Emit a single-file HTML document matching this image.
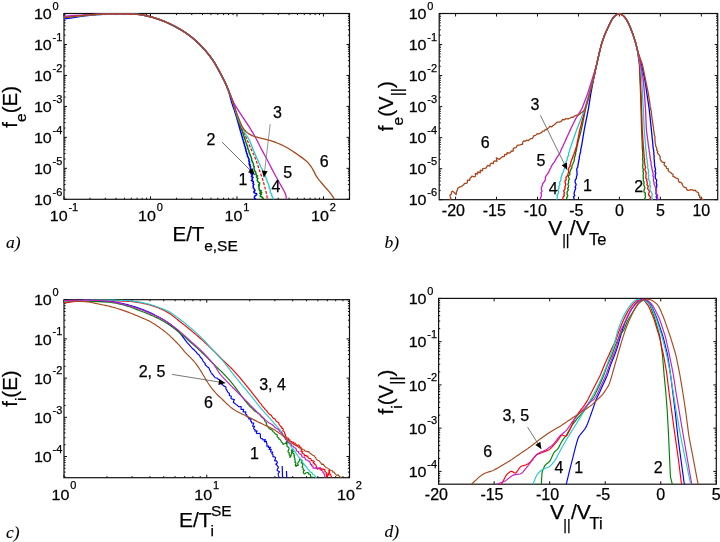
<!DOCTYPE html>
<html><head><meta charset="utf-8"><style>
html,body{margin:0;padding:0;background:#fff;}
svg{display:block;will-change:transform;}
text{font-family:"Liberation Sans", sans-serif;fill:#000;stroke:#000;stroke-width:0.25px;}
</style></head><body>
<svg width="720" height="542" viewBox="0 0 720 542">
<rect width="720" height="542" fill="#fff"/>
<path d="M64 199.3v-3M64 13.5v3M150.49 199.3v-3M150.49 13.5v3M236.98 199.3v-3M236.98 13.5v3M323.46 199.3v-3M323.46 13.5v3M64 13.5h3M349.5 13.5h-3M64 44.47h3M349.5 44.47h-3M64 75.43h3M349.5 75.43h-3M64 106.4h3M349.5 106.4h-3M64 137.37h3M349.5 137.37h-3M64 168.33h3M349.5 168.33h-3M64 199.3h3M349.5 199.3h-3M90.04 199.3v-1.6M90.04 13.5v1.6M105.27 199.3v-1.6M105.27 13.5v1.6M116.07 199.3v-1.6M116.07 13.5v1.6M124.45 199.3v-1.6M124.45 13.5v1.6M131.3 199.3v-1.6M131.3 13.5v1.6M137.09 199.3v-1.6M137.09 13.5v1.6M142.11 199.3v-1.6M142.11 13.5v1.6M146.53 199.3v-1.6M146.53 13.5v1.6M176.52 199.3v-1.6M176.52 13.5v1.6M191.75 199.3v-1.6M191.75 13.5v1.6M202.56 199.3v-1.6M202.56 13.5v1.6M210.94 199.3v-1.6M210.94 13.5v1.6M217.79 199.3v-1.6M217.79 13.5v1.6M223.58 199.3v-1.6M223.58 13.5v1.6M228.59 199.3v-1.6M228.59 13.5v1.6M233.02 199.3v-1.6M233.02 13.5v1.6M263.01 199.3v-1.6M263.01 13.5v1.6M278.24 199.3v-1.6M278.24 13.5v1.6M289.05 199.3v-1.6M289.05 13.5v1.6M297.43 199.3v-1.6M297.43 13.5v1.6M304.28 199.3v-1.6M304.28 13.5v1.6M310.07 199.3v-1.6M310.07 13.5v1.6M315.08 199.3v-1.6M315.08 13.5v1.6M319.51 199.3v-1.6M319.51 13.5v1.6M64 189.98h1.6M349.5 189.98h-1.6M64 184.53h1.6M349.5 184.53h-1.6M64 180.66h1.6M349.5 180.66h-1.6M64 177.66h1.6M349.5 177.66h-1.6M64 175.2h1.6M349.5 175.2h-1.6M64 173.13h1.6M349.5 173.13h-1.6M64 171.33h1.6M349.5 171.33h-1.6M64 169.75h1.6M349.5 169.75h-1.6M64 159.01h1.6M349.5 159.01h-1.6M64 153.56h1.6M349.5 153.56h-1.6M64 149.69h1.6M349.5 149.69h-1.6M64 146.69h1.6M349.5 146.69h-1.6M64 144.24h1.6M349.5 144.24h-1.6M64 142.16h1.6M349.5 142.16h-1.6M64 140.37h1.6M349.5 140.37h-1.6M64 138.78h1.6M349.5 138.78h-1.6M64 128.04h1.6M349.5 128.04h-1.6M64 122.59h1.6M349.5 122.59h-1.6M64 118.72h1.6M349.5 118.72h-1.6M64 115.72h1.6M349.5 115.72h-1.6M64 113.27h1.6M349.5 113.27h-1.6M64 111.2h1.6M349.5 111.2h-1.6M64 109.4h1.6M349.5 109.4h-1.6M64 107.82h1.6M349.5 107.82h-1.6M64 97.08h1.6M349.5 97.08h-1.6M64 91.63h1.6M349.5 91.63h-1.6M64 87.76h1.6M349.5 87.76h-1.6M64 84.76h1.6M349.5 84.76h-1.6M64 82.3h1.6M349.5 82.3h-1.6M64 80.23h1.6M349.5 80.23h-1.6M64 78.43h1.6M349.5 78.43h-1.6M64 76.85h1.6M349.5 76.85h-1.6M64 66.11h1.6M349.5 66.11h-1.6M64 60.66h1.6M349.5 60.66h-1.6M64 56.79h1.6M349.5 56.79h-1.6M64 53.79h1.6M349.5 53.79h-1.6M64 51.34h1.6M349.5 51.34h-1.6M64 49.26h1.6M349.5 49.26h-1.6M64 47.47h1.6M349.5 47.47h-1.6M64 45.88h1.6M349.5 45.88h-1.6M64 35.14h1.6M349.5 35.14h-1.6M64 29.69h1.6M349.5 29.69h-1.6M64 25.82h1.6M349.5 25.82h-1.6M64 22.82h1.6M349.5 22.82h-1.6M64 20.37h1.6M349.5 20.37h-1.6M64 18.3h1.6M349.5 18.3h-1.6M64 16.5h1.6M349.5 16.5h-1.6M64 14.92h1.6M349.5 14.92h-1.6" stroke="#111" stroke-width="1" fill="none"/>
<rect x="64" y="13.5" width="285.5" height="185.8" fill="none" stroke="#111" stroke-width="1.2"/>
<text transform="translate(51.8 19.1) scale(1.05 1)" font-size="15.3" text-anchor="end">10</text>
<text x="52.6" y="9.8" font-size="11">0</text>
<text transform="translate(51.8 50.07) scale(1.05 1)" font-size="15.3" text-anchor="end">10</text>
<text x="52.6" y="40.77" font-size="11">-1</text>
<text transform="translate(51.8 81.03) scale(1.05 1)" font-size="15.3" text-anchor="end">10</text>
<text x="52.6" y="71.73" font-size="11">-2</text>
<text transform="translate(51.8 112) scale(1.05 1)" font-size="15.3" text-anchor="end">10</text>
<text x="52.6" y="102.7" font-size="11">-3</text>
<text transform="translate(51.8 142.97) scale(1.05 1)" font-size="15.3" text-anchor="end">10</text>
<text x="52.6" y="133.67" font-size="11">-4</text>
<text transform="translate(51.8 173.93) scale(1.05 1)" font-size="15.3" text-anchor="end">10</text>
<text x="52.6" y="164.63" font-size="11">-5</text>
<text transform="translate(51.8 204.9) scale(1.05 1)" font-size="15.3" text-anchor="end">10</text>
<text x="52.6" y="195.6" font-size="11">-6</text>
<text transform="translate(49.78 221) scale(1.05 1)" font-size="15.3">10</text>
<text x="68.44" y="210.5" font-size="11">-1</text>
<text transform="translate(138.1 221) scale(1.05 1)" font-size="15.3">10</text>
<text x="156.76" y="210.5" font-size="11">0</text>
<text transform="translate(224.59 221) scale(1.05 1)" font-size="15.3">10</text>
<text x="243.25" y="210.5" font-size="11">1</text>
<text transform="translate(311.07 221) scale(1.05 1)" font-size="15.3">10</text>
<text x="329.74" y="210.5" font-size="11">2</text>
<path d="M64 18.8 L65.93 18.52 L68.69 18.11 L71.85 17.65 L75 17.2 L78.13 16.75 L81.44 16.26 L84.77 15.8 L88 15.4 L91 15.08 L93.88 14.82 L96.81 14.6 L100 14.4 L103.59 14.23 L107.44 14.08 L111.32 13.97 L115 13.9 L118.41 13.87 L121.69 13.88 L124.87 13.93 L128 14 L131.14 14.08 L134.24 14.19 L137.22 14.35 L140 14.6 L142.49 14.96 L144.77 15.42 L146.96 15.94 L149.2 16.5 L151.52 17.1 L153.85 17.74 L156.18 18.44 L158.5 19.2 L160.81 20.03 L163.11 20.93 L165.4 21.89 L167.7 22.9 L170 23.96 L172.3 25.08 L174.6 26.26 L176.9 27.5 L179.2 28.79 L181.49 30.13 L183.79 31.56 L186.1 33.1 L187.26 33.93 L188.42 34.76 L189.59 35.64 L190.75 36.52 L191.91 37.46 L193.08 38.39 L194.24 39.4 L195.4 40.4 L196.55 41.46 L197.71 42.52 L198.86 43.64 L200.01 44.76 L201.15 45.95 L202.3 47.14 L203.07 47.99 L203.83 48.85 L204.6 49.7 L205.37 50.6 L206.13 51.5 L206.9 52.4 L207.67 53.35 L208.43 54.3 L209.2 55.24 L209.97 56.27 L210.73 57.29 L211.5 58.31 L212.07 59.16 L212.65 60.01 L213.22 60.85 L213.8 61.7 L214.4 62.69 L215 63.68 L215.6 64.67 L216.2 65.66 L216.69 66.54 L217.18 67.42 L217.68 68.3 L218.17 69.18 L218.66 70.06 L219.13 70.94 L219.6 71.81 L220.06 72.69 L220.53 73.56 L221 74.44 L221.5 75.4 L222 76.37 L222.5 77.33 L223 78.3 L223.52 79.33 L224.05 80.36 L224.57 81.39 L224.99 82.25 L225.41 83.12 L225.83 83.99 L226.2 84.83 L226.56 85.67 L226.93 86.51 L227.28 87.44 L227.64 88.37 L228 89.3 L228.26 90.11 L228.53 90.92 L228.79 91.73 L229.05 92.54 L229.29 93.41 L229.54 94.28 L229.78 95.15 L230.02 96.01 L230.25 96.88 L230.48 97.76 L230.72 98.63 L230.95 99.5 L231.19 100.33 L231.43 101.15 L231.66 101.97 L231.9 102.8 L232.23 103.8 L232.55 104.79 L232.88 105.79 L233.2 106.73 L233.53 107.66 L233.86 108.6 L234.18 109.54 L234.51 110.47 L234.83 111.41 L235.15 112.41 L235.48 113.4 L235.8 114.4 L236.04 115.21 L236.28 116.02 L236.52 116.83 L236.75 117.64 L236.99 118.49 L237.23 119.33 L237.46 120.18 L237.7 121.03 L237.94 121.89 L238.17 122.75 L238.41 123.61 L238.65 124.47 L238.88 125.33 L239.12 126.19 L239.36 127.04 L239.6 127.9 L239.84 128.75 L240.08 129.6 L240.33 130.44 L240.57 131.29 L240.81 132.14 L241.06 132.99 L241.3 133.84 L241.54 134.69 L241.79 135.54 L242.03 136.4 L242.28 137.25 L242.52 138.1 L242.77 138.95 L243.01 139.8 L243.24 140.65 L243.52 141.5 L243.75 142.36 L244.03 143.22 L244.25 144.09 L244.48 144.95 L244.58 145.82 L245.09 146.69 L245.45 147.56 L245.31 148.43 L246 149.28 L245.84 150.13 L245.95 150.99 L246.45 151.84 L246.52 152.66 L246.73 153.47 L247.35 154.29 L247.45 155.1 L247.38 156.11 L248.1 157.13 L248.45 158.14 L248.96 159.1 L249.11 160.06 L248.73 161.02 L249.7 161.97 L249.44 162.91 L249.02 163.85 L250.31 164.8 L249.6 165.75 L250.62 166.7 L250.29 167.7 L250.69 168.69 L250.9 169.69 L250 170.71 L251.58 171.72 L251.55 172.74 L250.87 173.71 L252.64 174.69 L251.89 175.67 L251.37 176.54 L253.06 177.42 L252.11 178.3 L252.46 179.43 L251.33 180.56 L253.37 181.56 L253.3 182.56 L252.85 183.47 L253.91 184.38 L253.24 185.24 L253.21 186.1 L253.24 187.65 L254.26 189.03 L255 190.38 L253.67 191.9 L254.28 192.86 L256.57 193.81 L256.53 194.89 L254.94 195.96 L254.45 196.95 L254.39 197.93 L255.8 199.3" stroke="#0000ff" stroke-width="1.55" fill="none" stroke-linejoin="round"/>
<path d="M64 17.6 L65.93 17.36 L68.69 17.03 L71.85 16.65 L75 16.3 L78.13 15.98 L81.44 15.67 L84.77 15.37 L88 15.1 L91 14.86 L93.88 14.65 L96.81 14.47 L100 14.3 L103.59 14.15 L107.44 14.02 L111.32 13.91 L115 13.85 L118.41 13.83 L121.69 13.86 L124.87 13.92 L128 14 L131.14 14.09 L134.24 14.19 L137.22 14.35 L140 14.6 L142.49 14.96 L144.77 15.42 L146.96 15.94 L149.2 16.5 L151.52 17.1 L153.85 17.74 L156.18 18.44 L158.5 19.2 L160.81 20.03 L163.11 20.93 L165.4 21.89 L167.7 22.9 L170 23.96 L172.3 25.08 L174.6 26.26 L176.9 27.5 L179.2 28.79 L181.49 30.13 L183.79 31.56 L186.1 33.1 L187.26 33.93 L188.42 34.76 L189.59 35.64 L190.75 36.52 L191.91 37.46 L193.08 38.39 L194.24 39.4 L195.4 40.4 L196.55 41.46 L197.71 42.52 L198.86 43.64 L200.01 44.76 L201.15 45.95 L202.3 47.14 L203.07 47.99 L203.83 48.85 L204.6 49.7 L205.37 50.6 L206.13 51.5 L206.9 52.4 L207.67 53.35 L208.43 54.3 L209.2 55.24 L209.97 56.27 L210.73 57.29 L211.5 58.31 L212.07 59.16 L212.65 60.01 L213.22 60.85 L213.8 61.7 L214.4 62.69 L215 63.68 L215.6 64.67 L216.2 65.66 L216.69 66.54 L217.18 67.42 L217.68 68.3 L218.17 69.18 L218.66 70.06 L219.13 70.94 L219.6 71.81 L220.06 72.69 L220.53 73.56 L221 74.44 L221.5 75.4 L222 76.37 L222.5 77.33 L223 78.3 L223.52 79.35 L224.04 80.39 L224.56 81.44 L224.98 82.34 L225.39 83.24 L225.81 84.14 L226.17 84.99 L226.53 85.83 L226.9 86.67 L227.27 87.55 L227.63 88.42 L228 89.3 L228.38 90.23 L228.77 91.17 L229.15 92.1 L229.52 93.05 L229.89 93.99 L230.26 94.94 L230.61 95.87 L230.97 96.8 L231.32 97.73 L231.65 98.62 L231.97 99.51 L232.3 100.4 L232.6 101.23 L232.89 102.06 L233.19 102.89 L233.59 104.07 L234 105.26 L234.38 106.42 L234.76 107.59 L235.01 108.4 L235.25 109.2 L235.5 110 L235.72 110.83 L235.95 111.65 L236.18 112.47 L236.38 113.31 L236.58 114.14 L236.79 114.98 L237 115.83 L237.22 116.68 L237.43 117.54 L237.69 118.43 L237.94 119.31 L238.2 120.2 L238.51 121.12 L238.82 122.04 L239.14 122.95 L239.48 123.9 L239.83 124.84 L240.18 125.79 L240.55 126.77 L240.92 127.75 L241.29 128.73 L241.66 129.75 L242.03 130.78 L242.4 131.8 L242.69 132.63 L242.97 133.45 L243.26 134.28 L243.54 135.11 L243.84 135.98 L244.13 136.85 L244.43 137.73 L244.73 138.6 L245.02 139.47 L245.32 140.35 L245.6 141.22 L245.92 142.09 L246.15 142.92 L246.47 143.75 L246.65 144.57 L246.97 145.4 L247.49 146.41 L247.69 147.43 L247.75 148.44 L248.32 149.4 L248.59 150.36 L248.98 151.32 L249.03 152.27 L249.36 153.21 L250.22 154.15 L249.97 155.1 L250.72 156.05 L251.13 157 L251.35 157.98 L251.83 158.96 L251.38 159.94 L252.21 160.94 L252.32 161.93 L253.05 162.92 L253.25 163.89 L253.61 164.86 L253.41 165.83 L254.27 166.76 L254 167.68 L254.06 168.6 L254.11 169.45 L254.53 170.31 L254.86 171.16 L255.72 171.96 L255.71 172.77 L256.1 173.57 L255.88 174.74 L257.49 175.92 L256.38 177.11 L257.91 178.3 L257.27 179.49 L257.34 180.69 L258.06 181.87 L259.63 183.05 L259.76 183.85 L258.61 184.66 L259.26 185.46 L258.59 186.31 L259.08 187.15 L259.05 188 L259.09 188.99 L259.26 189.98 L261.34 190.98 L259.95 191.8 L261.71 192.62 L259.77 193.44 L261.45 194.26 L260.32 195.25 L260.27 196.24 L262.34 197.23 L262.87 198.27 L262.94 199.3" stroke="#008000" stroke-width="1.5" fill="none" stroke-linejoin="round"/>
<path d="M64 17.6 L65.93 17.36 L68.69 17.03 L71.85 16.65 L75 16.3 L78.13 15.98 L81.44 15.67 L84.77 15.37 L88 15.1 L91 14.86 L93.88 14.65 L96.81 14.47 L100 14.3 L103.59 14.15 L107.44 14.02 L111.32 13.91 L115 13.85 L118.41 13.83 L121.69 13.86 L124.87 13.92 L128 14 L131.14 14.09 L134.24 14.19 L137.22 14.35 L140 14.6 L142.49 14.96 L144.77 15.42 L146.96 15.94 L149.2 16.5 L151.52 17.1 L153.85 17.74 L156.18 18.44 L158.5 19.2 L160.81 20.03 L163.11 20.93 L165.4 21.89 L167.7 22.9 L170 23.96 L172.3 25.08 L174.6 26.26 L176.9 27.5 L179.2 28.79 L181.49 30.13 L183.79 31.56 L186.1 33.1 L188.42 34.76 L190.75 36.52 L193.08 38.39 L195.4 40.4 L197.71 42.52 L200.01 44.76 L202.3 47.14 L204.6 49.7 L206.9 52.4 L209.2 55.24 L211.5 58.31 L213.8 61.7 L216.2 65.66 L218.66 70.06 L221 74.44 L223 78.3 L224.56 81.44 L225.81 84.14 L226.9 86.67 L228 89.3 L229.14 92.06 L230.24 94.81 L231.3 97.59 L232.3 100.4 L233.21 103.25 L234.06 106.14 L234.89 109.05 L235.8 112 L236.78 115 L237.79 118.05 L238.86 121.1 L240 124.1 L241.25 127.04 L242.6 129.93 L243.97 132.81 L245.3 135.7 L246.56 138.6 L247.8 141.49 L249.04 144.39 L250.3 147.3 L251.62 150.18 L252.97 153.03 L254.32 155.95 L255.6 159 L256.84 162.38 L258.06 165.99 L259.2 169.48 L260.2 172.5 L261.01 174.81 L261.67 176.64 L262.27 178.35 L262.9 180.3 L263.59 182.6 L264.3 185.06 L264.98 187.56 L265.6 190 L266.18 192.57 L266.72 195.26 L267.18 197.64 L267.5 199.3" stroke="#ff0000" stroke-width="1.2" fill="none" stroke-linejoin="round" stroke-dasharray="3,1.5"/>
<path d="M64 17.6 L65.93 17.36 L68.69 17.03 L71.85 16.65 L75 16.3 L78.13 15.98 L81.44 15.67 L84.77 15.37 L88 15.1 L91 14.86 L93.88 14.65 L96.81 14.47 L100 14.3 L103.59 14.15 L107.44 14.02 L111.32 13.91 L115 13.85 L118.41 13.83 L121.69 13.86 L124.87 13.92 L128 14 L131.14 14.09 L134.24 14.19 L137.22 14.35 L140 14.6 L142.49 14.96 L144.77 15.42 L146.96 15.94 L149.2 16.5 L151.52 17.1 L153.85 17.74 L156.18 18.44 L158.5 19.2 L160.81 20.03 L163.11 20.93 L165.4 21.89 L167.7 22.9 L170 23.96 L172.3 25.08 L174.6 26.26 L176.9 27.5 L179.2 28.79 L181.49 30.13 L183.79 31.56 L186.1 33.1 L188.42 34.76 L190.75 36.52 L193.08 38.39 L194.24 39.4 L195.4 40.4 L196.55 41.46 L197.71 42.52 L198.86 43.64 L200.01 44.76 L201.15 45.95 L202.3 47.14 L203.45 48.42 L204.6 49.7 L205.75 51.05 L206.9 52.4 L208.05 53.82 L209.2 55.24 L209.97 56.27 L210.73 57.29 L211.5 58.31 L212.27 59.44 L213.03 60.57 L213.8 61.7 L214.6 63.02 L215.4 64.34 L216.2 65.66 L216.81 66.76 L217.43 67.86 L218.05 68.96 L218.66 70.06 L219.25 71.16 L219.83 72.25 L220.41 73.34 L221 74.44 L221.66 75.72 L222.33 77.01 L223 78.3 L223.52 79.35 L224.04 80.39 L224.56 81.44 L225.18 82.79 L225.81 84.14 L226.35 85.41 L226.9 86.67 L227.45 87.99 L228 89.3 L228.57 90.68 L229.14 92.06 L229.69 93.43 L230.24 94.81 L230.77 96.2 L231.3 97.59 L231.8 98.99 L232.3 100.4 L232.76 101.85 L233.23 103.3 L233.66 104.79 L234.09 106.27 L234.51 107.73 L234.93 109.2 L235.36 110.6 L235.8 112 L236.26 113.35 L236.73 114.71 L237.2 116.03 L237.68 117.35 L238.15 118.58 L238.62 119.82 L239.06 120.91 L239.5 122 L240.3 123.78 L241.04 125.25 L241.77 126.59 L242.5 128 L243.23 129.5 L243.95 131 L244.69 132.5 L245.5 134 L246.39 135.41 L247.34 136.75 L248.32 138.22 L249.3 140 L249.79 141.11 L250.28 142.22 L250.77 143.48 L251.26 144.75 L251.76 146.08 L252.27 147.41 L252.78 148.7 L253.3 150 L253.84 151.27 L254.39 152.55 L254.95 153.84 L255.51 155.12 L256.07 156.38 L256.63 157.64 L257.17 158.82 L257.7 160 L258.21 161.1 L258.71 162.21 L259.23 163.25 L259.74 164.3 L260.56 166.24 L261.36 168 L262.32 169.46 L262.72 170.68 L263.27 171.85 L264.23 173.2 L264.67 174.76 L265.59 176.42 L266.08 178.18 L266.9 180 L267.22 181.92 L267.95 182.93 L268.5 183.94 L268.54 184.96 L269.08 185.99 L269.34 186.99 L269.06 188 L270.08 189.03 L270.22 190.06 L270.21 191.12 L270.19 192.18 L271.75 194.16 L271.76 195.8 L272.54 197.06 L273.16 198.04 L273.27 198.77 L273.79 199.3" stroke="#22cccc" stroke-width="1.3" fill="none" stroke-linejoin="round"/>
<path d="M64 16.3 L65.93 16.15 L68.69 15.94 L71.85 15.71 L75 15.5 L78.13 15.32 L81.44 15.14 L84.77 14.97 L88 14.8 L91 14.64 L93.88 14.48 L96.81 14.33 L100 14.2 L103.59 14.07 L107.44 13.95 L111.32 13.85 L115 13.8 L118.41 13.8 L121.69 13.84 L124.87 13.91 L128 14 L131.14 14.09 L134.24 14.19 L137.22 14.35 L140 14.6 L142.49 14.96 L144.77 15.42 L146.96 15.94 L149.2 16.5 L151.52 17.1 L153.85 17.74 L156.18 18.44 L158.5 19.2 L160.81 20.03 L163.11 20.93 L165.4 21.89 L167.7 22.9 L170 23.96 L172.3 25.08 L174.6 26.26 L176.9 27.5 L179.2 28.79 L181.49 30.13 L183.79 31.56 L186.1 33.1 L188.42 34.76 L190.75 36.52 L193.08 38.39 L195.4 40.4 L197.71 42.52 L200.01 44.76 L202.3 47.14 L204.6 49.7 L206.9 52.4 L209.2 55.24 L211.5 58.31 L213.8 61.7 L216.2 65.66 L218.66 70.06 L221 74.44 L223 78.3 L224.53 81.39 L225.71 83.99 L226.79 86.51 L228 89.3 L229.39 92.59 L230.85 96.14 L232.33 99.64 L233.8 102.8 L235.2 105.42 L236.58 107.71 L238.01 109.94 L239.6 112.4 L241.43 115.18 L243.42 118.13 L245.45 121.13 L247.4 124.1 L249.23 126.96 L251 129.78 L252.75 132.66 L254.5 135.7 L256.29 139.03 L258.08 142.56 L259.84 146.06 L261.5 149.3 L263.03 152.15 L264.45 154.75 L265.85 157.3 L267.3 160 L268.84 162.96 L270.42 166.04 L271.99 169.11 L273.5 172 L274.95 174.69 L276.36 177.25 L277.71 179.69 L279 182 L280.25 184.21 L281.45 186.31 L282.55 188.26 L283.5 190 L284.27 191.48 L284.9 192.73 L285.4 193.87 L285.8 195 L286.06 196.22 L286.19 197.46 L286.25 198.54 L286.3 199.3" stroke="#c41ec4" stroke-width="1.3" fill="none" stroke-linejoin="round"/>
<path d="M64 17.6 L65.93 17.36 L68.69 17.03 L71.85 16.65 L75 16.3 L78.13 15.98 L81.44 15.67 L84.77 15.37 L88 15.1 L91 14.86 L93.88 14.65 L96.81 14.47 L100 14.3 L103.59 14.15 L107.44 14.02 L111.32 13.91 L115 13.85 L118.41 13.83 L121.69 13.86 L124.87 13.92 L128 14 L131.14 14.09 L134.24 14.19 L137.22 14.35 L140 14.6 L142.49 14.96 L144.77 15.42 L146.96 15.94 L149.2 16.5 L151.52 17.1 L153.85 17.74 L156.18 18.44 L158.5 19.2 L160.81 20.03 L163.11 20.93 L165.4 21.89 L167.7 22.9 L170 23.96 L172.3 25.08 L174.6 26.26 L176.9 27.5 L179.2 28.79 L181.49 30.13 L183.79 31.56 L186.1 33.1 L188.42 34.76 L190.75 36.52 L193.08 38.39 L195.4 40.4 L197.71 42.52 L200.01 44.76 L202.3 47.14 L204.6 49.7 L206.9 52.4 L209.2 55.24 L211.5 58.31 L213.8 61.7 L216.2 65.66 L218.66 70.06 L221 74.44 L223 78.3 L224.56 81.44 L225.81 84.14 L226.9 86.67 L228 89.3 L229.15 92.1 L230.26 94.94 L231.32 97.73 L232.3 100.4 L233.18 102.94 L233.97 105.38 L234.73 107.73 L235.5 110 L236.29 112.16 L237.06 114.21 L237.86 116.23 L238.7 118.3 L239.58 120.51 L240.49 122.8 L241.46 125 L242.5 126.98 L243.58 128.68 L244.71 130.19 L245.95 131.55 L247.4 132.8 L249.03 133.93 L250.83 134.93 L252.83 135.84 L255.1 136.7 L257.75 137.47 L260.71 138.15 L263.79 138.83 L266.8 139.6 L269.75 140.48 L272.72 141.43 L275.64 142.44 L278.4 143.5 L280.96 144.6 L283.36 145.74 L285.71 146.96 L288.1 148.3 L290.58 149.81 L293.08 151.46 L295.55 153.16 L297.9 154.8 L300.15 156.35 L302.33 157.87 L304.38 159.4 L306.25 161 L307.89 162.65 L309.35 164.34 L310.7 166.11 L312 168 L313.23 170.1 L314.38 172.36 L315.51 174.62 L316.7 176.7 L317.99 178.56 L319.33 180.29 L320.68 181.92 L322 183.5 L323.29 185.02 L324.58 186.47 L325.83 187.86 L327 189.2 L328.08 190.45 L329.1 191.62 L330.07 192.79 L331 194 L331.97 195.41 L332.95 196.95 L333.8 198.34 L334.4 199.3" stroke="#a8481c" stroke-width="1.3" fill="none" stroke-linejoin="round"/>
<text x="206.6" y="144.5" font-size="16" text-anchor="start">2</text>
<text x="273" y="117.7" font-size="16" text-anchor="start">3</text>
<text x="238.5" y="185.1" font-size="16" text-anchor="start">1</text>
<text x="271.6" y="191.9" font-size="16" text-anchor="start">4</text>
<text x="283.2" y="177.9" font-size="16" text-anchor="start">5</text>
<text x="319.8" y="166.7" font-size="16" text-anchor="start">6</text>
<line x1="222.1" y1="142.2" x2="254.8" y2="174.8" stroke="#444" stroke-width="0.8"/>
<path d="M254.8 174.8 L248.08 172.34 L252.31 168.09 Z" fill="#000"/>
<line x1="270.2" y1="124.1" x2="263.9" y2="177.4" stroke="#777" stroke-width="0.8"/>
<path d="M263.9 177.4 L261.68 170.59 L267.64 171.3 Z" fill="#000"/>
<text x="172.5" y="241.2" font-size="20.5">E/T</text>
<text x="204.2" y="251.2" font-size="15.5">e,SE</text>
<text transform="translate(16.6,127.7) rotate(-90)" font-size="20.5">f<tspan font-size="15.5" dy="9.5">e</tspan><tspan dy="-9.5">(E)</tspan></text>
<text x="6" y="248.4" font-size="17.5" font-style="italic" style="font-family:'Liberation Serif',serif;stroke-width:0.1px">a)</text>
<path d="M455.58 199.7v-3M455.58 13.5v3M496.54 199.7v-3M496.54 13.5v3M537.49 199.7v-3M537.49 13.5v3M578.45 199.7v-3M578.45 13.5v3M619.41 199.7v-3M619.41 13.5v3M660.36 199.7v-3M660.36 13.5v3M701.32 199.7v-3M701.32 13.5v3M439.2 13.5h3M717.7 13.5h-3M439.2 44.53h3M717.7 44.53h-3M439.2 75.57h3M717.7 75.57h-3M439.2 106.6h3M717.7 106.6h-3M439.2 137.63h3M717.7 137.63h-3M439.2 168.67h3M717.7 168.67h-3M439.2 199.7h3M717.7 199.7h-3M439.2 190.36h1.6M717.7 190.36h-1.6M439.2 184.89h1.6M717.7 184.89h-1.6M439.2 181.02h1.6M717.7 181.02h-1.6M439.2 178.01h1.6M717.7 178.01h-1.6M439.2 175.55h1.6M717.7 175.55h-1.6M439.2 173.47h1.6M717.7 173.47h-1.6M439.2 171.67h1.6M717.7 171.67h-1.6M439.2 170.09h1.6M717.7 170.09h-1.6M439.2 159.32h1.6M717.7 159.32h-1.6M439.2 153.86h1.6M717.7 153.86h-1.6M439.2 149.98h1.6M717.7 149.98h-1.6M439.2 146.98h1.6M717.7 146.98h-1.6M439.2 144.52h1.6M717.7 144.52h-1.6M439.2 142.44h1.6M717.7 142.44h-1.6M439.2 140.64h1.6M717.7 140.64h-1.6M439.2 139.05h1.6M717.7 139.05h-1.6M439.2 128.29h1.6M717.7 128.29h-1.6M439.2 122.83h1.6M717.7 122.83h-1.6M439.2 118.95h1.6M717.7 118.95h-1.6M439.2 115.94h1.6M717.7 115.94h-1.6M439.2 113.48h1.6M717.7 113.48h-1.6M439.2 111.41h1.6M717.7 111.41h-1.6M439.2 109.61h1.6M717.7 109.61h-1.6M439.2 108.02h1.6M717.7 108.02h-1.6M439.2 97.26h1.6M717.7 97.26h-1.6M439.2 91.79h1.6M717.7 91.79h-1.6M439.2 87.92h1.6M717.7 87.92h-1.6M439.2 84.91h1.6M717.7 84.91h-1.6M439.2 82.45h1.6M717.7 82.45h-1.6M439.2 80.37h1.6M717.7 80.37h-1.6M439.2 78.57h1.6M717.7 78.57h-1.6M439.2 76.99h1.6M717.7 76.99h-1.6M439.2 66.22h1.6M717.7 66.22h-1.6M439.2 60.76h1.6M717.7 60.76h-1.6M439.2 56.88h1.6M717.7 56.88h-1.6M439.2 53.88h1.6M717.7 53.88h-1.6M439.2 51.42h1.6M717.7 51.42h-1.6M439.2 49.34h1.6M717.7 49.34h-1.6M439.2 47.54h1.6M717.7 47.54h-1.6M439.2 45.95h1.6M717.7 45.95h-1.6M439.2 35.19h1.6M717.7 35.19h-1.6M439.2 29.73h1.6M717.7 29.73h-1.6M439.2 25.85h1.6M717.7 25.85h-1.6M439.2 22.84h1.6M717.7 22.84h-1.6M439.2 20.38h1.6M717.7 20.38h-1.6M439.2 18.31h1.6M717.7 18.31h-1.6M439.2 16.51h1.6M717.7 16.51h-1.6M439.2 14.92h1.6M717.7 14.92h-1.6" stroke="#111" stroke-width="1" fill="none"/>
<rect x="439.2" y="13.5" width="278.5" height="186.2" fill="none" stroke="#111" stroke-width="1.2"/>
<text transform="translate(426.5 19.1) scale(1.05 1)" font-size="15.3" text-anchor="end">10</text>
<text x="427.3" y="9.8" font-size="11">0</text>
<text transform="translate(426.5 50.13) scale(1.05 1)" font-size="15.3" text-anchor="end">10</text>
<text x="427.3" y="40.83" font-size="11">-1</text>
<text transform="translate(426.5 81.17) scale(1.05 1)" font-size="15.3" text-anchor="end">10</text>
<text x="427.3" y="71.87" font-size="11">-2</text>
<text transform="translate(426.5 112.2) scale(1.05 1)" font-size="15.3" text-anchor="end">10</text>
<text x="427.3" y="102.9" font-size="11">-3</text>
<text transform="translate(426.5 143.23) scale(1.05 1)" font-size="15.3" text-anchor="end">10</text>
<text x="427.3" y="133.93" font-size="11">-4</text>
<text transform="translate(426.5 174.27) scale(1.05 1)" font-size="15.3" text-anchor="end">10</text>
<text x="427.3" y="164.97" font-size="11">-5</text>
<text transform="translate(426.5 205.3) scale(1.05 1)" font-size="15.3" text-anchor="end">10</text>
<text x="427.3" y="196" font-size="11">-6</text>
<text x="453.38" y="216.1" font-size="16" text-anchor="middle">-20</text>
<text x="494.34" y="216.1" font-size="16" text-anchor="middle">-15</text>
<text x="535.29" y="216.1" font-size="16" text-anchor="middle">-10</text>
<text x="576.25" y="216.1" font-size="16" text-anchor="middle">-5</text>
<text x="619.41" y="216.1" font-size="16" text-anchor="middle">0</text>
<text x="660.36" y="216.1" font-size="16" text-anchor="middle">5</text>
<text x="701.32" y="216.1" font-size="16" text-anchor="middle">10</text>
<path d="M574.27 199.7 L573.92 198.25 L573.56 196.79 L574.78 195.44 L574.09 193.96 L574.28 192.53 L574.63 191.12 L575.13 189.73 L575.77 188.34 L575.04 186.85 L575.94 185.49 L576.04 184.07 L575.13 182.54 L575.1 181.09 L575.41 179.7 L576.46 178.39 L576.34 176.94 L576.89 175.57 L577.11 174.16 L576.94 172.69 L576.99 171.26 L576.72 169.79 L576.89 168.36 L577.79 167.05 L577.9 165.61 L578.22 164.21 L578.34 162.76 L578.69 161.35 L578.94 159.92 L579.37 158.53 L579.2 157.02 L579.69 155.64 L579.88 154.2 L580.38 152.82 L580.66 151.4 L580.72 149.94 L580.97 148.51 L581.29 147.1 L581.58 145.68 L581.89 144.27 L582.08 142.83 L582.33 141.41 L582.56 139.98 L582.79 138.56 L583.03 137.13 L583.26 135.7 L583.5 134.28 L583.73 132.85 L583.97 131.43 L584.22 130.01 L584.48 128.6 L584.76 127.2 L585.04 125.8 L585.32 124.4 L585.6 123 L585.88 121.6 L586.16 120.2 L586.44 118.8 L586.72 117.4 L587 116 L587.28 114.6 L587.56 113.2 L587.84 111.8 L588.12 110.4 L588.38 109 L588.62 107.6 L588.84 106.2 L589.06 104.8 L589.28 103.4 L589.5 102 L589.71 100.6 L589.93 99.2 L590.15 97.8 L590.37 96.4 L590.6 95 L590.84 93.59 L591.1 92.19 L591.37 90.78 L591.63 89.37 L591.9 87.96 L592.17 86.55 L592.43 85.14 L592.7 83.73 L592.97 82.32 L593.24 80.91 L593.51 79.5 L593.8 78.1 L594.09 76.7 L594.39 75.3 L594.68 73.9 L594.98 72.5 L595.27 71.1 L595.57 69.7 L595.86 68.3 L596.16 66.9 L596.46 65.5 L596.77 64.09 L597.08 62.67 L597.41 61.24 L597.73 59.82 L598.05 58.4 L598.37 56.98 L598.69 55.56 L599.02 54.13 L599.35 52.71 L599.69 51.27 L600.05 49.82 L600.42 48.37 L600.78 46.93 L601.15 45.48 L601.53 44.04 L601.96 42.64 L602.42 41.27 L602.89 39.92 L603.37 38.56 L603.85 37.21 L604.33 35.85 L604.86 34.49 L605.45 33.12 L606.07 31.74 L606.71 30.36 L607.35 28.98 L607.98 27.6 L608.61 26.22 L609.24 24.84 L609.88 23.46 L610.56 22.08 L611.31 20.7 L612.13 19.33 L613.04 18.01 L614.06 16.74 L615.24 15.58 L616.62 14.62 L618.29 14.04 L620.15 14.06 L621.85 14.67 L623.26 15.67 L624.44 16.86 L625.46 18.15 L626.37 19.49 L627.19 20.88 L627.95 22.3 L628.66 23.74 L629.33 25.2 L629.96 26.65 L630.54 28.09 L631.09 29.51 L631.64 30.94 L632.18 32.36 L632.71 33.78 L633.2 35.17 L633.64 36.53 L634.08 37.88 L634.51 39.24 L634.94 40.59 L635.36 41.95 L635.76 43.32 L636.12 44.7 L636.45 46.1 L636.78 47.5 L637.11 48.9 L637.45 50.3 L637.81 51.69 L638.19 53.07 L638.58 54.45 L638.97 55.83 L639.35 57.21 L639.75 58.59 L640.13 59.97 L640.52 61.35 L640.91 62.73 L641.29 64.11 L641.64 65.5 L641.97 66.9 L642.29 68.3 L642.6 69.7 L642.91 71.1 L643.23 72.5 L643.54 73.9 L643.86 75.3 L644.17 76.7 L644.48 78.1 L644.76 79.5 L645 80.91 L645.22 82.32 L645.43 83.73 L645.64 85.14 L645.85 86.55 L646.06 87.96 L646.27 89.37 L646.48 90.78 L646.69 92.19 L646.9 93.59 L647.1 95 L647.31 96.4 L647.52 97.8 L647.73 99.2 L647.94 100.6 L648.15 102 L648.36 103.4 L648.57 104.8 L648.78 106.2 L648.99 107.6 L649.18 109 L649.34 110.4 L649.49 111.8 L649.64 113.2 L649.79 114.6 L649.93 116 L650.08 117.4 L650.23 118.8 L650.37 120.2 L650.52 121.6 L650.67 123 L650.81 124.4 L650.96 125.8 L651.11 127.2 L651.25 128.6 L651.4 130.01 L651.54 131.42 L651.69 132.84 L651.83 134.26 L651.97 135.68 L652.12 137.1 L652.26 138.52 L652.41 139.94 L652.55 141.36 L652.72 142.78 L652.81 144.21 L652.91 145.63 L653.02 147.06 L653.3 148.46 L653.5 149.88 L653.64 151.3 L653.9 152.71 L653.76 154.16 L654.16 155.55 L654.12 156.99 L654.03 158.44 L654.24 159.87 L654.4 161.3 L654.41 162.75 L654.64 164.18 L654.57 165.63 L654.86 167.06 L655.33 168.47 L655.61 169.9 L654.86 171.4 L655.83 172.77 L655.5 174.25 L655.21 175.72 L655.36 177.16 L655.56 178.58 L656.58 179.95 L656.7 181.37 L656.11 182.82 L656.79 184.19 L656.7 185.61 L656.73 187.02 L655.96 188.47 L655.99 189.88 L656.07 191.28 L655.99 192.7 L656.05 194.11 L657.36 195.45 L655.96 196.93 L657.2 198.28 L656.63 199.7 L657 199.7" stroke="#0000ff" stroke-width="1.3" fill="none" stroke-linejoin="round"/>
<path d="M566.32 199.63 L566.61 198.25 L567.22 196.89 L567.86 195.53 L567 194.05 L567.08 192.65 L567.4 191.27 L568.38 189.93 L567.51 188.46 L568.55 187.13 L568.53 185.72 L567.87 184.26 L568.55 182.9 L568.54 181.49 L568.61 180.09 L569.46 178.75 L568.45 177.25 L568.54 175.82 L569.86 174.65 L569.67 173.15 L569.91 171.73 L570.49 170.43 L570.97 169.09 L571.93 167.92 L571.74 166.36 L572.21 165.02 L572.93 163.76 L573.35 162.41 L574.05 161.14 L574.36 159.74 L574.41 158.27 L574.65 156.85 L575.29 155.51 L575.65 154.12 L575.55 152.62 L576.13 151.28 L576.47 149.88 L576.7 148.45 L576.9 147.02 L577.32 145.64 L577.61 144.23 L577.86 142.81 L578.2 141.41 L578.53 139.99 L578.91 138.57 L579.3 137.14 L579.7 135.71 L580.1 134.29 L580.5 132.86 L580.89 131.43 L581.26 130.01 L581.57 128.6 L581.86 127.2 L582.14 125.8 L582.42 124.4 L582.7 123 L582.98 121.6 L583.26 120.2 L583.54 118.8 L583.82 117.4 L584.1 116 L584.38 114.6 L584.66 113.2 L584.94 111.8 L585.23 110.4 L585.54 109 L585.89 107.6 L586.26 106.2 L586.64 104.8 L587.02 103.4 L587.4 102 L587.79 100.6 L588.17 99.2 L588.55 97.8 L588.93 96.4 L589.31 95 L589.68 93.59 L590.04 92.19 L590.4 90.78 L590.77 89.37 L591.13 87.96 L591.49 86.55 L591.85 85.14 L592.21 83.73 L592.58 82.32 L592.94 80.91 L593.28 79.5 L593.61 78.1 L593.93 76.7 L594.24 75.3 L594.56 73.9 L594.87 72.5 L595.19 71.1 L595.5 69.7 L595.81 68.3 L596.13 66.9 L596.44 65.5 L596.76 64.09 L597.08 62.67 L597.41 61.24 L597.73 59.82 L598.05 58.4 L598.37 56.98 L598.69 55.56 L599.02 54.13 L599.35 52.71 L599.69 51.27 L600.05 49.82 L600.42 48.37 L600.78 46.93 L601.15 45.48 L601.53 44.04 L601.96 42.64 L602.42 41.27 L602.89 39.92 L603.37 38.56 L603.85 37.21 L604.33 35.85 L604.86 34.49 L605.45 33.12 L606.07 31.74 L606.71 30.36 L607.35 28.98 L607.98 27.6 L608.61 26.22 L609.24 24.84 L609.88 23.46 L610.56 22.08 L611.31 20.7 L612.13 19.33 L613.04 18.01 L614.06 16.74 L615.24 15.58 L616.62 14.62 L618.29 14.04 L620.15 14.06 L621.85 14.67 L623.26 15.67 L624.44 16.86 L625.46 18.15 L626.37 19.49 L627.19 20.88 L627.95 22.3 L628.66 23.74 L629.33 25.2 L629.96 26.65 L630.54 28.09 L631.09 29.51 L631.64 30.94 L632.18 32.36 L632.71 33.78 L633.2 35.17 L633.64 36.53 L634.08 37.88 L634.51 39.24 L634.94 40.59 L635.36 41.95 L635.76 43.32 L636.12 44.7 L636.45 46.1 L636.78 47.5 L637.11 48.9 L637.42 50.31 L637.68 51.73 L637.9 53.18 L638.1 54.63 L638.3 56.08 L638.5 57.54 L638.7 58.99 L638.9 60.44 L639.1 61.89 L639.29 63.34 L639.45 64.78 L639.54 66.2 L639.59 67.6 L639.64 69 L639.69 70.4 L639.74 71.8 L639.79 73.2 L639.83 74.6 L639.88 76 L639.93 77.4 L639.98 78.8 L640.03 80.21 L640.09 81.61 L640.14 83.02 L640.2 84.43 L640.26 85.84 L640.31 87.25 L640.37 88.66 L640.43 90.07 L640.49 91.48 L640.54 92.89 L640.59 94.3 L640.64 95.7 L640.68 97.1 L640.71 98.5 L640.75 99.9 L640.79 101.3 L640.83 102.7 L640.87 104.1 L640.9 105.5 L640.94 106.9 L640.98 108.3 L641.02 109.7 L641.06 111.1 L641.1 112.5 L641.14 113.9 L641.18 115.3 L641.22 116.7 L641.26 118.1 L641.3 119.5 L641.34 120.9 L641.38 122.3 L641.42 123.7 L641.46 125.1 L641.5 126.5 L641.54 127.9 L641.58 129.3 L641.64 130.72 L641.7 132.14 L641.76 133.57 L641.83 135 L641.89 136.43 L641.95 137.86 L642.02 139.29 L642.08 140.71 L642.15 142.14 L642.21 143.57 L642.24 145 L642.26 146.43 L642.32 147.86 L642.4 149.29 L642.57 150.72 L642.7 152.15 L642.79 153.58 L642.47 155.03 L642.93 156.45 L642.7 157.9 L642.52 159.34 L642.94 160.76 L642.94 162.2 L642.97 163.64 L642.59 165.09 L642.83 166.52 L642.73 167.96 L643.53 169.36 L642.93 170.81 L643.3 172.21 L643.46 173.62 L643.09 175.06 L643.27 176.46 L643.14 177.89 L643.44 179.28 L643.31 180.71 L644.05 182.07 L643.97 183.5 L643.73 184.93 L644.32 186.3 L644.92 187.68 L644.31 189.14 L643.94 190.58 L644.02 191.99 L645.4 193.31 L645.06 194.75 L645.44 196.14 L645.34 197.57 L644.32 199.05 L645.34 199.69" stroke="#008000" stroke-width="1.3" fill="none" stroke-linejoin="round"/>
<path d="M562.45 199.61 L562.86 198.21 L563.2 196.79 L564.44 195.49 L563.9 193.97 L564.46 192.59 L563.59 191.03 L564.45 189.68 L565.15 188.31 L564.82 186.82 L565.62 185.46 L565.68 184.02 L565.17 182.5 L564.97 180.99 L566.3 179.87 L565.9 178.3 L566.17 176.92 L567.38 175.81 L567.88 174.49 L568.24 173.14 L568.72 171.82 L568.37 170.26 L568.65 168.89 L569.09 167.55 L570.22 166.41 L569.97 164.83 L570.48 163.47 L570.86 162.07 L571.36 160.71 L571.83 159.34 L572.49 158.04 L572.86 156.63 L573.41 155.29 L574.14 154.01 L574.29 152.53 L574.99 151.24 L575.42 149.86 L575.82 148.46 L576.26 147.08 L576.66 145.69 L576.94 144.26 L577.19 142.83 L577.5 141.41 L577.79 139.98 L578.08 138.56 L578.37 137.13 L578.65 135.7 L578.94 134.28 L579.23 132.85 L579.52 131.43 L579.83 130.01 L580.16 128.6 L580.52 127.2 L580.88 125.8 L581.24 124.4 L581.6 123 L581.96 121.6 L582.32 120.2 L582.68 118.8 L583.04 117.4 L583.4 116 L583.76 114.6 L584.12 113.2 L584.48 111.8 L584.84 110.4 L585.22 109 L585.61 107.6 L586.02 106.2 L586.43 104.8 L586.84 103.4 L587.25 102 L587.66 100.6 L588.07 99.2 L588.48 97.8 L588.88 96.4 L589.29 95 L589.67 93.59 L590.04 92.19 L590.4 90.78 L590.77 89.37 L591.13 87.96 L591.49 86.55 L591.85 85.14 L592.21 83.73 L592.58 82.32 L592.94 80.91 L593.28 79.5 L593.61 78.1 L593.93 76.7 L594.24 75.3 L594.56 73.9 L594.87 72.5 L595.19 71.1 L595.5 69.7 L595.81 68.3 L596.13 66.9 L596.44 65.5 L596.76 64.09 L597.08 62.67 L597.41 61.24 L597.73 59.82 L598.05 58.4 L598.37 56.98 L598.69 55.56 L599.02 54.13 L599.35 52.71 L599.69 51.27 L600.05 49.82 L600.42 48.37 L600.78 46.93 L601.15 45.48 L601.53 44.04 L601.96 42.64 L602.42 41.27 L602.89 39.92 L603.37 38.56 L603.85 37.21 L604.33 35.85 L604.86 34.49 L605.45 33.12 L606.07 31.74 L606.71 30.36 L607.35 28.98 L607.98 27.6 L608.61 26.22 L609.24 24.84 L609.88 23.46 L610.56 22.08 L611.31 20.7 L612.13 19.33 L613.04 18.01 L614.06 16.74 L615.24 15.58 L616.62 14.62 L618.29 14.04 L620.15 14.06 L621.85 14.67 L623.26 15.67 L624.44 16.86 L625.46 18.15 L626.37 19.49 L627.19 20.88 L627.95 22.3 L628.66 23.74 L629.33 25.2 L629.96 26.65 L630.54 28.09 L631.09 29.51 L631.64 30.94 L632.18 32.36 L632.71 33.78 L633.2 35.17 L633.64 36.53 L634.08 37.88 L634.51 39.24 L634.94 40.59 L635.36 41.95 L635.76 43.32 L636.12 44.7 L636.45 46.1 L636.78 47.5 L637.11 48.9 L637.42 50.31 L637.69 51.73 L637.91 53.18 L638.13 54.63 L638.34 56.08 L638.55 57.54 L638.76 58.99 L638.97 60.44 L639.18 61.89 L639.38 63.34 L639.55 64.78 L639.66 66.2 L639.73 67.6 L639.8 69 L639.87 70.4 L639.93 71.8 L640 73.2 L640.07 74.6 L640.13 76 L640.2 77.4 L640.27 78.8 L640.34 80.21 L640.41 81.61 L640.49 83.02 L640.57 84.43 L640.64 85.84 L640.72 87.25 L640.8 88.66 L640.87 90.07 L640.95 91.48 L641.02 92.89 L641.09 94.3 L641.15 95.7 L641.2 97.1 L641.24 98.5 L641.29 99.9 L641.34 101.3 L641.39 102.7 L641.43 104.1 L641.48 105.5 L641.53 106.9 L641.57 108.3 L641.62 109.7 L641.66 111.1 L641.7 112.5 L641.74 113.9 L641.78 115.3 L641.82 116.7 L641.86 118.1 L641.9 119.5 L641.94 120.9 L641.98 122.3 L642.02 123.7 L642.06 125.1 L642.1 126.5 L642.14 127.9 L642.19 129.3 L642.26 130.72 L642.35 132.14 L642.45 133.57 L642.55 135 L642.65 136.43 L642.75 137.86 L642.85 139.29 L642.95 140.71 L643.04 142.14 L643.13 143.57 L643.19 145 L643.31 146.43 L643.56 147.85 L643.52 149.29 L643.72 150.71 L643.83 152.14 L643.84 153.58 L644.21 154.98 L644.11 156.43 L644.05 157.88 L644.7 159.26 L644.32 160.73 L644.54 162.15 L644.89 163.56 L644.73 165.01 L645.43 166.39 L645.51 167.82 L644.85 169.32 L645.33 170.71 L645.93 172.1 L646.12 173.52 L645.92 174.98 L646 176.42 L645.69 177.95 L646.95 179.2 L646.63 180.74 L647.15 182.12 L647.25 183.58 L646.95 185.11 L648.42 186.32 L647.59 187.95 L648 189.34 L648.99 190.62 L649.48 191.97 L648.65 193.53 L648.67 194.95 L649.8 196.19 L650.4 197.52 L649.89 199.02 L649.8 199.7" stroke="#ff0000" stroke-width="1.3" fill="none" stroke-linejoin="round"/>
<path d="M556.62 199.7 L556.99 198.37 L557.57 197.05 L556.87 195.5 L557.78 194.24 L558.43 192.94 L558.7 191.56 L557.77 189.97 L558.77 188.73 L558.96 187.34 L559.04 185.93 L559.96 184.68 L559.6 183.18 L559.81 181.78 L560.85 180.59 L560.91 179.08 L560.99 177.55 L561.48 176.17 L562.16 174.85 L562.18 173.31 L563.22 172.11 L563.81 170.76 L563.98 169.28 L564.79 168.03 L565.26 166.69 L565.34 165.25 L565.84 163.93 L565.83 162.46 L566.2 161.11 L567.2 159.94 L567.17 158.47 L567.55 157.12 L568.3 155.88 L568.61 154.51 L568.74 153.08 L569.23 151.76 L569.62 150.41 L570.04 149.07 L570.38 147.71 L570.93 146.39 L571.35 145.02 L571.84 143.66 L572.3 142.29 L572.79 140.93 L573.28 139.57 L573.75 138.2 L574.23 136.83 L574.7 135.47 L575.17 134.1 L575.65 132.73 L576.13 131.37 L576.62 130.01 L577.12 128.67 L577.64 127.33 L578.16 126 L578.68 124.67 L579.2 123.33 L579.72 122 L580.24 120.66 L580.77 119.31 L581.31 117.94 L581.84 116.56 L582.38 115.19 L582.92 113.81 L583.46 112.44 L583.99 111.06 L584.51 109.68 L584.97 108.3 L585.38 106.9 L585.78 105.5 L586.17 104.1 L586.56 102.7 L586.95 101.3 L587.34 99.9 L587.73 98.5 L588.12 97.1 L588.51 95.7 L588.9 94.3 L589.29 92.89 L589.68 91.48 L590.07 90.07 L590.46 88.66 L590.85 87.25 L591.24 85.84 L591.63 84.43 L592.02 83.02 L592.41 81.61 L592.8 80.21 L593.16 78.8 L593.51 77.4 L593.86 76 L594.2 74.6 L594.54 73.2 L594.89 71.8 L595.23 70.4 L595.57 69 L595.91 67.6 L596.26 66.2 L596.59 64.79 L596.92 63.38 L597.24 61.96 L597.57 60.53 L597.89 59.11 L598.21 57.69 L598.53 56.27 L598.86 54.84 L599.18 53.42 L599.52 51.99 L599.87 50.55 L600.23 49.1 L600.6 47.65 L600.97 46.2 L601.34 44.76 L601.74 43.33 L602.18 41.95 L602.65 40.59 L603.13 39.24 L603.61 37.88 L604.09 36.53 L604.59 35.17 L605.14 33.81 L605.76 32.43 L606.39 31.05 L607.03 29.67 L607.66 28.29 L608.3 26.91 L608.93 25.53 L609.56 24.15 L610.21 22.77 L610.93 21.39 L611.72 20.01 L612.57 18.67 L613.53 17.37 L614.62 16.14 L615.9 15.06 L617.41 14.27 L619.21 13.97 L621.04 14.3 L622.59 15.13 L623.87 16.25 L624.97 17.5 L625.93 18.82 L626.79 20.18 L627.58 21.59 L628.31 23.02 L629 24.47 L629.65 25.93 L630.25 27.37 L630.82 28.8 L631.36 30.23 L631.91 31.65 L632.45 33.07 L632.96 34.47 L633.42 35.85 L633.86 37.21 L634.29 38.56 L634.72 39.92 L635.15 41.27 L635.57 42.63 L635.95 44.01 L636.29 45.4 L636.62 46.8 L636.95 48.2 L637.27 49.6 L637.58 50.99 L637.87 52.38 L638.14 53.76 L638.41 55.14 L638.68 56.52 L638.95 57.9 L639.22 59.28 L639.49 60.66 L639.76 62.04 L640.02 63.42 L640.25 64.81 L640.44 66.2 L640.59 67.6 L640.73 69 L640.87 70.4 L641.01 71.8 L641.16 73.2 L641.3 74.6 L641.44 76 L641.58 77.4 L641.72 78.8 L641.82 80.21 L641.9 81.61 L641.97 83.02 L642.03 84.43 L642.1 85.84 L642.17 87.25 L642.23 88.66 L642.3 90.07 L642.37 91.48 L642.43 92.89 L642.5 94.3 L642.58 95.7 L642.65 97.1 L642.73 98.5 L642.8 99.9 L642.88 101.3 L642.96 102.7 L643.03 104.1 L643.11 105.5 L643.19 106.9 L643.26 108.3 L643.33 109.7 L643.39 111.1 L643.45 112.5 L643.51 113.9 L643.57 115.3 L643.63 116.7 L643.69 118.1 L643.75 119.5 L643.81 120.9 L643.87 122.3 L643.93 123.7 L643.99 125.1 L644.05 126.5 L644.11 127.9 L644.18 129.3 L644.28 130.72 L644.39 132.14 L644.52 133.57 L644.65 135 L644.78 136.43 L644.91 137.86 L645.04 139.29 L645.15 140.72 L645.26 142.15 L645.41 143.57 L645.62 144.99 L645.6 146.44 L645.68 147.87 L645.82 149.3 L646.07 150.71 L646.27 152.14 L646.34 153.57 L646.38 155.01 L646.41 156.45 L646.83 157.85 L646.97 159.28 L647.25 160.69 L647.25 162.14 L647.39 163.57 L647.75 164.97 L647.76 166.42 L647.5 167.89 L648.28 169.25 L648.42 170.68 L648.53 172.11 L648.08 173.6 L648.86 174.96 L648.42 176.45 L648.48 177.89 L648.72 179.3 L649 180.7 L650.02 181.99 L649.87 183.45 L649.53 184.94 L650.58 186.23 L650.24 187.72 L650.01 189.2 L650.09 190.62 L651.25 191.9 L651.86 193.25 L652.23 194.64 L651.93 196.12 L651.72 197.59 L652.39 198.94 L651.52 199.7" stroke="#22cccc" stroke-width="1.3" fill="none" stroke-linejoin="round"/>
<path d="M539.95 199.7 L540.28 198.31 L540.97 196.98 L541.3 195.58 L541.49 194.17 L540.83 192.61 L542.03 191.36 L541.4 189.81 L541.46 188.36 L541.43 186.88 L542.45 185.68 L542.48 184.18 L543.2 182.95 L544.19 181.84 L544.95 180.63 L545.47 179.32 L545.26 177.7 L545.8 176.4 L546.59 175.21 L547.46 174.05 L548.3 172.89 L548.83 171.59 L549.59 170.41 L550.01 169 L550.8 167.8 L551.3 166.41 L552.08 165.19 L552.78 163.93 L553.75 162.83 L554.55 161.63 L555.29 160.39 L555.95 159.1 L556.73 157.89 L557.41 156.61 L558.42 155.54 L559.06 154.24 L559.83 153.03 L560.48 151.76 L560.9 150.4 L561.44 149.1 L562.08 147.83 L562.79 146.61 L563.34 145.31 L563.87 143.99 L564.49 142.72 L565.04 141.43 L565.63 140.14 L566.21 138.86 L566.79 137.57 L567.38 136.29 L567.96 135 L568.54 133.71 L569.13 132.43 L569.71 131.14 L570.31 129.86 L570.92 128.58 L571.53 127.31 L572.14 126.03 L572.75 124.75 L573.36 123.47 L573.97 122.19 L574.59 120.92 L575.22 119.64 L575.92 118.38 L576.68 117.13 L577.47 115.88 L578.26 114.62 L579.04 113.38 L579.83 112.12 L580.61 110.87 L581.36 109.61 L582.01 108.32 L582.56 106.99 L583.07 105.66 L583.58 104.32 L584.09 102.99 L584.6 101.65 L585.11 100.31 L585.62 98.98 L586.13 97.64 L586.63 96.3 L587.13 94.97 L587.6 93.63 L588.04 92.28 L588.47 90.94 L588.9 89.59 L589.32 88.25 L589.75 86.9 L590.18 85.55 L590.6 84.21 L591.03 82.86 L591.46 81.52 L591.89 80.16 L592.31 78.79 L592.74 77.4 L593.17 76 L593.6 74.6 L594.03 73.2 L594.46 71.8 L594.89 70.4 L595.31 69 L595.74 67.6 L596.16 66.2 L596.56 64.79 L596.92 63.38 L597.24 61.96 L597.57 60.53 L597.89 59.11 L598.21 57.69 L598.53 56.27 L598.86 54.84 L599.18 53.42 L599.52 51.99 L599.87 50.55 L600.23 49.1 L600.6 47.65 L600.97 46.2 L601.34 44.76 L601.74 43.33 L602.18 41.95 L602.65 40.59 L603.13 39.24 L603.61 37.88 L604.09 36.53 L604.59 35.17 L605.14 33.81 L605.76 32.43 L606.39 31.05 L607.03 29.67 L607.66 28.29 L608.3 26.91 L608.93 25.53 L609.56 24.15 L610.21 22.77 L610.93 21.39 L611.72 20.01 L612.57 18.67 L613.53 17.37 L614.62 16.14 L615.9 15.06 L617.41 14.27 L619.21 13.97 L621.04 14.3 L622.59 15.13 L623.87 16.25 L624.97 17.5 L625.93 18.82 L626.79 20.18 L627.58 21.59 L628.31 23.02 L629 24.47 L629.65 25.93 L630.25 27.37 L630.82 28.8 L631.36 30.23 L631.91 31.65 L632.45 33.07 L632.96 34.47 L633.42 35.85 L633.86 37.21 L634.29 38.56 L634.72 39.92 L635.15 41.27 L635.57 42.63 L635.95 44.01 L636.29 45.4 L636.62 46.8 L636.95 48.2 L637.27 49.6 L637.6 50.99 L637.92 52.38 L638.24 53.76 L638.56 55.14 L638.88 56.52 L639.2 57.9 L639.52 59.28 L639.84 60.66 L640.16 62.04 L640.47 63.42 L640.77 64.81 L641.03 66.2 L641.28 67.6 L641.51 69 L641.75 70.4 L641.99 71.8 L642.23 73.2 L642.47 74.6 L642.7 76 L642.94 77.4 L643.16 78.8 L643.34 80.21 L643.47 81.61 L643.59 83.02 L643.7 84.43 L643.81 85.84 L643.93 87.25 L644.04 88.66 L644.16 90.07 L644.27 91.48 L644.38 92.89 L644.49 94.3 L644.59 95.7 L644.69 97.1 L644.79 98.5 L644.88 99.9 L644.98 101.3 L645.07 102.7 L645.17 104.1 L645.26 105.5 L645.36 106.9 L645.45 108.3 L645.52 109.7 L645.59 111.1 L645.65 112.5 L645.71 113.9 L645.77 115.3 L645.83 116.7 L645.89 118.1 L645.95 119.5 L646.01 120.9 L646.07 122.3 L646.13 123.7 L646.19 125.1 L646.25 126.5 L646.31 127.9 L646.39 129.3 L646.52 130.71 L646.69 132.13 L646.87 133.55 L647.06 134.97 L647.25 136.39 L647.44 137.81 L647.63 139.23 L647.82 140.65 L648.04 142.07 L648.15 143.5 L648.36 144.92 L648.57 146.34 L648.69 147.77 L649.09 149.16 L649.11 150.6 L649.42 152.01 L649.74 153.41 L649.6 154.88 L650.16 156.24 L649.99 157.71 L650.49 159.07 L650.36 160.53 L651.14 161.83 L651.09 163.27 L650.94 164.74 L651.53 166.07 L651.7 167.47 L652.03 168.85 L652.2 170.26 L652.64 171.62 L653.03 172.99 L653.25 174.39 L652.88 175.89 L653.72 177.18 L653.51 178.65 L653.44 180.11 L653.69 181.51 L654.05 182.9 L654.23 184.33 L654.84 185.67 L655.26 187.05 L656.2 188.33 L656.53 189.72 L656.44 191.2 L656.41 192.66 L656.66 194.07 L657.77 195.32 L657.02 196.91 L657.69 198.24 L657.89 199.66 L657.7 199.7" stroke="#c41ec4" stroke-width="1.3" fill="none" stroke-linejoin="round"/>
<path d="M449.28 199.67 L450.88 198.51 L450.26 196.73 L449.91 194.98 L451.53 194.05 L451.39 192.03 L452.73 191.12 L456.18 194.57 L456.39 191.8 L457.29 190.33 L457.73 188.3 L458.85 187.64 L460.01 186.92 L461.54 186.46 L462.71 185.6 L463.69 184.55 L464.64 183.46 L466.65 183.45 L467.38 182.15 L467.46 180.17 L469.61 180.44 L469.86 178.45 L471.03 177.56 L471.85 176.17 L474.22 176.97 L475.52 176.27 L475.36 173.5 L477.61 174.13 L477.8 171.84 L480.29 172.81 L480.27 170.21 L482.51 170.82 L482.79 168.65 L484.39 168.34 L486 168.07 L486.82 166.66 L487.72 165.36 L489.9 166.14 L490.29 164.05 L491.39 163.14 L493.38 163.71 L493.69 161.48 L495.03 160.98 L496.91 161.35 L496.32 157.78 L499.12 159.4 L500.35 158.58 L501.38 157.47 L502.63 156.67 L504.32 156.5 L504.65 154.39 L506.68 154.71 L507.12 152.76 L509.25 153.21 L510.47 152.37 L511.26 150.93 L513.19 151.09 L513.26 148.61 L514.49 147.8 L516.1 147.52 L516.85 146 L517.97 145.06 L519.68 145.15 L520.95 144.51 L522.46 144.29 L522.79 142.09 L523.69 140.83 L525.56 141.22 L526.55 140.12 L528.48 140.59 L529.47 139.49 L530.62 138.65 L532.2 138.55 L533.14 137.38 L533.75 135.64 L535.37 135.6 L536.44 134.64 L537.44 133.56 L539.23 133.79 L540.44 133.06 L541.7 132.41 L542.54 131.07 L544.2 131.1 L545.02 129.71 L546.61 129.58 L547.66 128.52 L548.87 127.72 L549.74 126.32 L551.69 126.75 L552.75 125.68 L554.02 124.99 L555.12 123.95 L556.2 122.85 L557.48 122.15 L559.06 122.06 L560.5 121.68 L561.76 120.93 L562.63 119.35 L564.43 119.81 L565.6 118.71 L567.21 118.89 L568.72 118.76 L570.08 118.04 L571.45 117.26 L573.12 117.26 L574.36 116.12 L575.74 115.48 L577.14 115.06 L578.59 114.78 L579.93 114.23 L580.91 112.79 L582.3 112.07 L583.54 111.07 L584.49 109.75 L585.13 108.32 L585.61 106.9 L586.02 105.5 L586.43 104.1 L586.84 102.7 L587.25 101.3 L587.66 99.9 L588.07 98.5 L588.48 97.1 L588.89 95.7 L589.29 94.3 L589.68 92.89 L590.06 91.48 L590.44 90.07 L590.82 88.66 L591.2 87.25 L591.59 85.84 L591.97 84.43 L592.35 83.02 L592.73 81.61 L593.1 80.21 L593.45 78.8 L593.77 77.4 L594.09 76 L594.4 74.6 L594.71 73.2 L595.03 71.8 L595.34 70.4 L595.66 69 L595.97 67.6 L596.29 66.2 L596.6 64.79 L596.92 63.38 L597.24 61.96 L597.57 60.53 L597.89 59.11 L598.21 57.69 L598.53 56.27 L598.86 54.84 L599.18 53.42 L599.52 51.99 L599.87 50.55 L600.23 49.1 L600.6 47.65 L600.97 46.2 L601.34 44.76 L601.74 43.33 L602.18 41.95 L602.65 40.59 L603.13 39.24 L603.61 37.88 L604.09 36.53 L604.59 35.17 L605.14 33.81 L605.76 32.43 L606.39 31.05 L607.03 29.67 L607.66 28.29 L608.3 26.91 L608.93 25.53 L609.56 24.15 L610.21 22.77 L610.93 21.39 L611.72 20.01 L612.57 18.67 L613.53 17.37 L614.62 16.14 L615.9 15.06 L617.41 14.27 L619.21 13.97 L621.04 14.3 L622.59 15.13 L623.87 16.25 L624.97 17.5 L625.93 18.82 L626.79 20.18 L627.58 21.59 L628.31 23.02 L629 24.47 L629.65 25.93 L630.25 27.37 L630.82 28.8 L631.36 30.23 L631.91 31.65 L632.45 33.07 L632.96 34.47 L633.42 35.85 L633.86 37.21 L634.29 38.56 L634.72 39.92 L635.15 41.27 L635.57 42.63 L635.95 44.01 L636.29 45.4 L636.62 46.8 L636.95 48.2 L637.28 49.6 L637.66 50.99 L638.1 52.38 L638.58 53.76 L639.07 55.14 L639.56 56.52 L640.05 57.9 L640.54 59.28 L641.03 60.66 L641.52 62.04 L642 63.42 L642.43 64.81 L642.77 66.2 L643.07 67.6 L643.36 69 L643.64 70.4 L643.93 71.8 L644.21 73.2 L644.5 74.6 L644.79 76 L645.07 77.4 L645.36 78.8 L645.64 80.21 L645.93 81.61 L646.21 83.02 L646.5 84.43 L646.79 85.84 L647.07 87.25 L647.36 88.66 L647.64 90.07 L647.93 91.48 L648.21 92.89 L648.47 94.3 L648.7 95.7 L648.92 97.1 L649.13 98.5 L649.34 99.9 L649.55 101.3 L649.76 102.7 L649.97 104.1 L650.11 105.51 L650.12 106.94 L650.82 108.27 L650.62 109.73 L651.3 111.06 L651.38 112.47 L651.56 113.87 L651.44 115.32 L651.89 116.68 L652.06 118.09 L652.07 119.51 L652.63 120.86 L652.37 122.32 L653.01 123.66 L652.92 125.1 L653.31 126.47 L653.54 127.87 L653.48 129.3 L653.76 130.68 L654.01 132.06 L654.19 133.45 L654.3 134.85 L654.82 136.19 L654.99 137.58 L654.84 139.02 L655.04 140.4 L655.06 141.82 L655.26 143.2 L655.56 144.57 L655.63 145.98 L656.41 147.27 L656.86 148.62 L656.7 150.2 L657.8 151.38 L657.35 153.1 L658.63 154.21 L659.43 155.48 L660.22 156.71 L660.02 158.4 L660.42 159.87 L661.38 161.01 L662.19 162.23 L664.79 162.29 L663.97 164.62 L664.89 165.84 L666.29 166.68 L666.51 168.47 L668.35 168.87 L668.22 170.86 L669.36 171.78 L670.66 172.56 L671.63 173.62 L673.13 174.23 L672.92 176.31 L674.44 176.88 L675.59 177.78 L677.03 178.34 L678.39 179.02 L678.49 181.23 L679.52 182.28 L681.27 182.51 L682.13 183.72 L682.6 185.24 L683.39 186.5 L684.63 187.39 L686.28 187.81 L686.72 189.59 L688.08 190.34 L689.65 190.22 L690.88 189.53 L692.28 189.81 L693.64 190.67 L695.23 190.14 L696.24 191.53 L697.4 192.2 L698.59 193.06 L698.56 194.89 L699.84 195.87 L699.57 197.58 L700.95 198.56 L703.04 199.26 L702 199.7" stroke="#a8481c" stroke-width="1.3" fill="none" stroke-linejoin="round"/>
<text x="530.6" y="109.9" font-size="16" text-anchor="start">3</text>
<text x="536.6" y="166.3" font-size="16" text-anchor="start">5</text>
<text x="548.8" y="194" font-size="16" text-anchor="start">4</text>
<text x="583.1" y="190.7" font-size="16" text-anchor="start">1</text>
<text x="634.2" y="191.6" font-size="16" text-anchor="start">2</text>
<text x="480.8" y="148.4" font-size="16" text-anchor="start">6</text>
<line x1="540.4" y1="115.4" x2="567.2" y2="169.7" stroke="#555" stroke-width="0.8"/>
<path d="M567.2 169.7 L561.63 165.2 L567.01 162.54 Z" fill="#000"/>
<text x="548.2" y="235" font-size="21">V</text>
<text x="562.2" y="245.3" font-size="14">||</text>
<text x="569.8" y="235" font-size="21">/V</text>
<text x="589" y="245.3" font-size="16.5">Te</text>
<text transform="translate(393.3,131.2) rotate(-90)" font-size="20.5">f<tspan font-size="15.5" dy="9.5">e</tspan><tspan dy="-9.5">(V</tspan><tspan font-size="16" dy="9.5">||</tspan><tspan dy="-9.5">)</tspan></text>
<text x="384.5" y="248.4" font-size="17.5" font-style="italic" style="font-family:'Liberation Serif',serif;stroke-width:0.1px">b)</text>
<path d="M64 477.7v-3M64 299.7v3M206.75 477.7v-3M206.75 299.7v3M349.5 477.7v-3M349.5 299.7v3M64 299.7h3M349.5 299.7h-3M64 338.9h3M349.5 338.9h-3M64 378.1h3M349.5 378.1h-3M64 417.3h3M349.5 417.3h-3M64 456.5h3M349.5 456.5h-3M106.97 477.7v-1.6M106.97 299.7v1.6M132.11 477.7v-1.6M132.11 299.7v1.6M149.94 477.7v-1.6M149.94 299.7v1.6M163.78 477.7v-1.6M163.78 299.7v1.6M175.08 477.7v-1.6M175.08 299.7v1.6M184.64 477.7v-1.6M184.64 299.7v1.6M192.92 477.7v-1.6M192.92 299.7v1.6M200.22 477.7v-1.6M200.22 299.7v1.6M249.72 477.7v-1.6M249.72 299.7v1.6M274.86 477.7v-1.6M274.86 299.7v1.6M292.69 477.7v-1.6M292.69 299.7v1.6M306.53 477.7v-1.6M306.53 299.7v1.6M317.83 477.7v-1.6M317.83 299.7v1.6M327.39 477.7v-1.6M327.39 299.7v1.6M335.67 477.7v-1.6M335.67 299.7v1.6M342.97 477.7v-1.6M342.97 299.7v1.6M64 477h1.6M349.5 477h-1.6M64 472.1h1.6M349.5 472.1h-1.6M64 468.3h1.6M349.5 468.3h-1.6M64 465.2h1.6M349.5 465.2h-1.6M64 462.57h1.6M349.5 462.57h-1.6M64 460.3h1.6M349.5 460.3h-1.6M64 458.29h1.6M349.5 458.29h-1.6M64 444.7h1.6M349.5 444.7h-1.6M64 437.8h1.6M349.5 437.8h-1.6M64 432.9h1.6M349.5 432.9h-1.6M64 429.1h1.6M349.5 429.1h-1.6M64 426h1.6M349.5 426h-1.6M64 423.37h1.6M349.5 423.37h-1.6M64 421.1h1.6M349.5 421.1h-1.6M64 419.09h1.6M349.5 419.09h-1.6M64 405.5h1.6M349.5 405.5h-1.6M64 398.6h1.6M349.5 398.6h-1.6M64 393.7h1.6M349.5 393.7h-1.6M64 389.9h1.6M349.5 389.9h-1.6M64 386.8h1.6M349.5 386.8h-1.6M64 384.17h1.6M349.5 384.17h-1.6M64 381.9h1.6M349.5 381.9h-1.6M64 379.89h1.6M349.5 379.89h-1.6M64 366.3h1.6M349.5 366.3h-1.6M64 359.4h1.6M349.5 359.4h-1.6M64 354.5h1.6M349.5 354.5h-1.6M64 350.7h1.6M349.5 350.7h-1.6M64 347.6h1.6M349.5 347.6h-1.6M64 344.97h1.6M349.5 344.97h-1.6M64 342.7h1.6M349.5 342.7h-1.6M64 340.69h1.6M349.5 340.69h-1.6M64 327.1h1.6M349.5 327.1h-1.6M64 320.2h1.6M349.5 320.2h-1.6M64 315.3h1.6M349.5 315.3h-1.6M64 311.5h1.6M349.5 311.5h-1.6M64 308.4h1.6M349.5 308.4h-1.6M64 305.77h1.6M349.5 305.77h-1.6M64 303.5h1.6M349.5 303.5h-1.6M64 301.49h1.6M349.5 301.49h-1.6" stroke="#111" stroke-width="1" fill="none"/>
<rect x="64" y="299.7" width="285.5" height="178" fill="none" stroke="#111" stroke-width="1.2"/>
<text transform="translate(51.8 305.3) scale(1.05 1)" font-size="15.3" text-anchor="end">10</text>
<text x="52.6" y="296" font-size="11">0</text>
<text transform="translate(51.8 344.5) scale(1.05 1)" font-size="15.3" text-anchor="end">10</text>
<text x="52.6" y="335.2" font-size="11">-1</text>
<text transform="translate(51.8 383.7) scale(1.05 1)" font-size="15.3" text-anchor="end">10</text>
<text x="52.6" y="374.4" font-size="11">-2</text>
<text transform="translate(51.8 422.9) scale(1.05 1)" font-size="15.3" text-anchor="end">10</text>
<text x="52.6" y="413.6" font-size="11">-3</text>
<text transform="translate(51.8 462.1) scale(1.05 1)" font-size="15.3" text-anchor="end">10</text>
<text x="52.6" y="452.8" font-size="11">-4</text>
<text transform="translate(51.61 499.5) scale(1.05 1)" font-size="15.3">10</text>
<text x="70.27" y="489" font-size="11">0</text>
<text transform="translate(194.36 499.5) scale(1.05 1)" font-size="15.3">10</text>
<text x="213.02" y="489" font-size="11">1</text>
<text transform="translate(337.11 499.5) scale(1.05 1)" font-size="15.3">10</text>
<text x="355.77" y="489" font-size="11">2</text>
<path d="M64 301 L65.79 300.92 L67.48 300.84 L69.09 300.76 L70.71 300.69 L72.32 300.63 L73.89 300.58 L75.43 300.54 L76.95 300.52 L78.5 300.52 L80.07 300.53 L81.69 300.56 L83.33 300.61 L84.95 300.67 L86.55 300.74 L88.13 300.82 L89.72 300.9 L91.3 300.98 L92.87 301.07 L94.41 301.15 L95.91 301.23 L97.38 301.31 L98.83 301.37 L100.3 301.43 L101.8 301.46 L103.39 301.45 L105.13 301.4 L107 301.34 L108.91 301.35 L110.74 301.46 L112.48 301.65 L114.17 301.9 L115.79 302.16 L117.32 302.44 L118.81 302.72 L120.28 303.02 L121.73 303.33 L123.17 303.65 L124.58 303.98 L125.98 304.32 L127.37 304.67 L128.76 305.04 L130.16 305.43 L131.54 305.83 L132.93 306.24 L134.33 306.67 L135.72 307.12 L137.11 307.58 L138.5 308.06 L139.89 308.55 L141.28 309.06 L142.66 309.58 L144.06 310.12 L145.44 310.68 L146.84 311.25 L148.23 311.85 L149.62 312.46 L151.01 313.1 L152.41 313.77 L153.83 314.45 L155.25 315.17 L156.67 315.91 L158.1 316.66 L159.52 317.43 L160.91 318.22 L162.28 319.01 L163.62 319.81 L164.93 320.62 L166.22 321.44 L167.48 322.29 L168.74 323.16 L169.97 324.04 L171.19 324.95 L172.42 325.88 L173.67 326.86 L174.91 327.85 L176.11 328.85 L177.25 329.88 L178.35 331.01 L179.41 332.28 L180.47 333.65 L181.54 335.1 L182.64 336.61 L183.77 338.16 L184.92 339.68 L186.05 341.15 L187.15 342.56 L188.35 343.84 L189.49 345.12 L190.55 346.42 L191.7 347.59 L192.77 348.77 L193.98 349.77 L195.07 350.91 L196.21 352.03 L197.14 353.44 L198.54 354.49 L199.69 355.8 L200.43 357.42 L201.87 358.48 L202.61 360.17 L203.05 361.08 L203.71 361.85 L204.35 362.71 L205.18 363.44 L205.17 364.75 L205.94 365.51 L206.81 366.12 L207.28 367.05 L208.49 367.41 L209.05 368.3 L209.41 369.36 L209.78 370.4 L210.43 371.21 L210.83 372.2 L211.86 373.76 L213.05 375 L214.08 376.34 L215.09 377.74 L217.24 378.08 L218.56 379.54 L219.66 379.98 L220.13 381.07 L220.19 382.6 L221.58 382.85 L221.74 384.17 L222.63 384.81 L223.96 386.13 L225.82 386.83 L225.92 388.9 L226.92 390.41 L227.82 392.11 L229.37 393.45 L229.33 395.52 L231.4 396.18 L230.88 398.31 L232.29 399.19 L234.36 399.52 L233.28 402.29 L234.62 403.28 L235.95 404.39 L237.45 405.4 L238.69 406.77 L241.19 406.69 L241.03 409.51 L243.67 409.4 L243.06 411.97 L245.86 411.75 L245.48 413.87 L246.76 414.82 L247.14 416.49 L248.41 417.65 L249.14 419.25 L250.41 418.54 L251.13 419.42 L250.58 420.94 L251.5 421.71 L251.64 422.89 L253.72 423.08 L253.17 424.6 L252.59 426.13 L254.67 426.32 L253.57 428.18 L254.13 429.14 L255.14 429.68 L254.9 431.22 L257.11 430.8 L256.29 432.8 L257.01 433.57 L259.03 433.3 L260.19 433.72 L260.35 434.93 L260.37 436.39 L260.47 437.79 L261.26 438.61 L262.68 438.9 L263.1 440.03 L265.37 439.67 L264.31 441.72 L266.53 441.41 L266.33 442.77 L266.93 443.58 L266.94 444.79 L266.74 446.15 L268.63 446.08 L268.28 447.54 L270.55 447.2 L269.03 449.33 L271.29 449.39 L270.73 450.76 L270.55 451.98 L272.8 452.16 L271.83 453.71 L272.74 454.46 L273.01 455.48 L272.96 456.67 L274.69 456.91 L275.54 457.65 L275.32 459.03 L274.57 460.72 L276.45 460.84 L277.18 461.77 L277.32 462.89 L275.77 464.28 L276.9 465.08 L277.38 466.02 L278.3 466.87 L278.31 467.91 L277.32 469.18 L277.04 470.29 L278.11 471.1 L279.52 471.84 L278.23 473.31 L278.21 474.5 L278.41 475.65 L278.9 476.74 L279.45 477.7" stroke="#0000ff" stroke-width="1.15" fill="none" stroke-linejoin="round"/>
<path d="M282.2 466 L282.6 477.7" stroke="#0000ff" stroke-width="1.2" fill="none" stroke-linejoin="round"/>
<path d="M286.4 471 L286.8 477.7" stroke="#0000ff" stroke-width="1.2" fill="none" stroke-linejoin="round"/>
<path d="M64 301.5 L65.79 301.36 L67.48 301.23 L69.09 301.1 L70.71 300.98 L72.32 300.87 L73.89 300.78 L75.43 300.71 L76.95 300.66 L78.5 300.64 L80.07 300.64 L81.69 300.67 L83.33 300.72 L84.95 300.79 L86.55 300.87 L88.13 300.97 L89.72 301.07 L91.3 301.17 L92.87 301.28 L94.41 301.39 L95.91 301.5 L97.38 301.6 L98.83 301.71 L100.3 301.8 L101.8 301.88 L103.39 301.95 L105.13 302.02 L106.06 302.06 L107 302.1 L107.95 302.17 L108.91 302.24 L109.82 302.34 L110.74 302.45 L112.48 302.69 L114.17 302.96 L115.79 303.24 L117.32 303.53 L118.81 303.82 L120.28 304.14 L121.73 304.48 L123.17 304.84 L124.58 305.23 L125.98 305.64 L127.37 306.09 L128.76 306.55 L130.16 307.04 L131.54 307.54 L132.93 308.06 L134.33 308.58 L135.72 309.11 L137.11 309.63 L138.5 310.16 L139.89 310.68 L141.28 311.2 L142.66 311.73 L144.06 312.26 L145.44 312.8 L146.83 313.36 L148.22 313.92 L149.61 314.51 L151 315.11 L152.39 315.72 L153.78 316.34 L155.16 316.97 L156.55 317.61 L157.93 318.27 L159.31 318.95 L160.7 319.66 L162.1 320.41 L163.5 321.19 L164.91 322.03 L166.32 322.91 L167.7 323.81 L169.02 324.7 L170.27 325.58 L171.48 326.44 L172.67 327.32 L173.85 328.21 L175.02 329.1 L176.2 330.01 L177.42 330.96 L178.67 331.96 L179.94 332.97 L181.18 333.98 L182.38 334.98 L183.53 335.96 L184.65 336.92 L185.74 337.88 L186.82 338.84 L187.88 339.8 L188.95 340.76 L190.03 341.73 L191.11 342.71 L192.21 343.68 L193.3 344.67 L194.4 345.65 L195.5 346.64 L196.6 347.63 L197.7 348.62 L198.8 349.63 L199.9 350.65 L201 351.68 L202.1 352.72 L203.21 353.78 L204.32 354.86 L205.42 355.95 L206.53 357.05 L207.64 358.15 L208.76 359.27 L209.87 360.38 L210.98 361.49 L212.09 362.59 L213.2 363.69 L214.32 364.77 L215.43 365.84 L216.55 366.91 L217.67 367.97 L218.78 369.04 L219.9 370.11 L221.01 371.19 L222.11 372.28 L223.2 373.39 L224.28 374.51 L225.35 375.64 L226.4 376.77 L227.44 377.92 L228.48 379.07 L229.51 380.24 L230.55 381.44 L231.59 382.68 L232.64 383.95 L233.7 385.25 L234.73 386.55 L235.71 387.83 L236.64 389.07 L237.53 390.27 L238.38 391.46 L239.22 392.63 L240.06 393.81 L240.9 394.99 L241.73 396.22 L242.63 397.47 L243.63 398.72 L244.56 400.08 L245.56 401.45 L246.74 402.7 L247.74 404.07 L248.96 405.18 L249.91 406.56 L251.37 407.51 L252.49 408.92 L253.68 410.23 L254.99 411.25 L256.45 411.94 L257.55 413.05 L258.95 413.77 L260.06 414.87 L260.92 416.23 L262.01 417.33 L263.61 418.11 L264.32 419.7 L265.03 421.32 L266.31 422.61 L266.54 424.44 L267.21 425.95 L268.28 427.21 L268.82 427.8 L269.18 428.81 L270.17 429.09 L271.16 429.37 L271.84 430.04 L272.68 430.5 L272.86 431.79 L273.87 432.04 L274.45 432.83 L275.08 433.56 L275.58 434.25 L276.98 434.4 L277.2 435.39 L277.09 436.58 L277.72 437.32 L278.7 437.86 L278.83 438.9 L279.95 439.36 L280.49 440.16 L281.14 440.9 L281.14 441.96 L282.09 442.28 L282.68 443.23 L283.11 444.44 L284.28 443.7 L285.04 443.53 L286.05 443.02 L286.2 441.93 L286.59 441.05 L286.3 442.02 L287.87 442.64 L286.35 443.91 L287.03 444.72 L287 445.68 L287.16 446.6 L288.71 447.22 L288.97 448.12 L288.96 449.08 L288.53 450.12 L287.9 451.21 L288.15 452.11 L289.29 452.82 L289.08 453.81 L289.05 454.78 L290.03 455.52 L289.96 457.44 L291.05 455.84 L290.96 454.76 L291.6 453.93 L291.73 452.92 L291.76 451.88 L291.45 450.73 L292.05 449.47 L292.84 450.64 L293.42 451.42 L291.97 452.74 L293.42 453.29 L294.18 454.02 L293.84 455.05 L294.49 455.81 L294.06 456.86 L294.51 457.68 L295.04 458.47 L294.69 459.5 L295.04 460.34 L295.39 461.18 L294.74 462.29 L295.95 462.91 L295.73 463.9 L295.31 464.95 L295.38 465.86 L296.53 466.25 L296.15 465.26 L298.18 465.39 L297.87 464.17 L297.81 463.1 L298.11 462.23 L298.75 461.56 L299.32 460.85 L299.47 459.9 L299.77 459.03 L300.8 459.67 L300.57 459.75 L302.14 460.36 L301.62 461.43 L301.19 462.47 L301.96 463.26 L303.01 463.99 L302.67 465.02 L302.79 465.94 L301.94 467.08 L302.78 467.85 L303.22 468.71 L303.07 469.7 L304.41 470.36 L303.35 471.54 L303.31 472.5 L303.77 473.36 L304.45 473.97 L305.08 473.56 L305.82 472.81 L306.74 472.73 L307.65 472.65 L308.73 473.01 L308.8 474.19 L310.26 474.3 L310.39 475.37 L310.68 476.33 L311.24 477.08 L312.78 477.14" stroke="#008000" stroke-width="1.15" fill="none" stroke-linejoin="round"/>
<path d="M64 303 L65.41 302.8 L66.84 302.59 L68.34 302.38 L69.9 302.16 L71.52 301.94 L73.11 301.73 L74.66 301.54 L76.19 301.37 L77.72 301.22 L79.28 301.08 L80.88 300.97 L82.51 300.87 L84.14 300.78 L85.75 300.71 L87.34 300.65 L88.92 300.59 L90.51 300.54 L92.09 300.5 L93.65 300.46 L95.16 300.42 L96.64 300.39 L98.11 300.36 L99.56 300.34 L101.04 300.32 L102.57 300.3 L104.21 300.31 L106.01 300.34 L106.97 300.38 L107.94 300.41 L108.89 300.45 L109.85 300.49 L111.63 300.56 L113.29 300.63 L114.88 300.7 L116.45 300.76 L118.04 300.83 L119.63 300.91 L121.2 300.99 L122.76 301.07 L124.33 301.16 L125.94 301.25 L127.6 301.34 L129.26 301.43 L130.9 301.54 L132.56 301.67 L134.24 301.84 L135.96 302.06 L137.67 302.32 L139.34 302.61 L140.97 302.93 L142.58 303.26 L144.15 303.61 L145.64 303.95 L147.06 304.3 L148.46 304.66 L149.86 305.04 L151.31 305.46 L152.82 305.92 L154.35 306.42 L155.87 306.95 L157.35 307.5 L158.81 308.07 L160.23 308.66 L161.63 309.28 L163 309.92 L164.35 310.58 L165.68 311.27 L166.99 311.99 L168.27 312.74 L169.53 313.53 L170.76 314.35 L171.96 315.21 L173.15 316.1 L174.31 317 L175.46 317.92 L176.6 318.85 L177.73 319.77 L178.87 320.68 L180 321.59 L181.13 322.48 L182.25 323.37 L183.37 324.25 L184.48 325.14 L185.59 326.02 L186.69 326.91 L187.8 327.8 L188.9 328.7 L190 329.6 L191.1 330.51 L192.2 331.42 L193.3 332.33 L194.4 333.25 L195.5 334.18 L196.6 335.11 L197.7 336.05 L198.8 337 L199.9 337.96 L201 338.93 L202.1 339.92 L203.21 340.92 L204.32 341.93 L205.42 342.96 L206.53 344 L207.64 345.05 L208.76 346.11 L209.87 347.18 L210.98 348.25 L212.09 349.33 L213.2 350.41 L214.32 351.5 L215.43 352.61 L216.55 353.72 L217.67 354.84 L218.78 355.96 L219.9 357.08 L221.01 358.2 L222.11 359.3 L223.2 360.39 L224.28 361.46 L225.37 362.52 L226.51 363.6 L227.72 364.75 L228.97 365.93 L230.2 367.1 L231.36 368.24 L232.49 369.38 L233.63 370.57 L234.76 371.8 L235.88 373.05 L236.97 374.3 L238.02 375.53 L239.05 376.74 L240.04 377.92 L241 379.07 L241.93 380.19 L242.85 381.31 L243.79 382.46 L244.76 383.65 L245.74 384.86 L246.72 386.06 L247.66 387.23 L248.59 388.38 L249.52 389.53 L250.46 390.7 L251.39 391.87 L252.27 393.05 L253.17 394.21 L254.13 395.36 L255.13 396.57 L256.12 397.82 L257.1 399.07 L258.07 400.31 L258.92 401.6 L259.89 402.78 L260.98 403.88 L261.76 405.31 L262.91 406.57 L264.02 407.93 L265.08 409.34 L266.48 410.44 L267.37 411.98 L268.51 413.31 L269.74 414.57 L271.44 415.39 L272.26 417.08 L273.4 418.38 L275.14 419.01 L275.78 420.65 L276.9 421.79 L278.59 422.52 L279.13 424.31 L280.15 425.77 L280.69 426.52 L281.86 426.83 L281.53 428.17 L282.87 428.56 L283.28 429.43 L282.77 430.75 L283.69 431.38 L284.45 432.09 L284.63 433.08 L284.79 434.08 L285.61 434.75 L285.28 435.99 L285.98 436.73 L286.72 437.41 L287.5 438.02 L288.51 438.41 L288.52 439.99 L289.92 439.92 L290.12 441.27 L291.28 441.49 L292.07 442.15 L293.21 442.15 L293.83 443.08 L295.02 443 L295.61 443.98 L296.34 444.71 L296.94 445.66 L298.4 445.1 L299.31 445.52 L299.52 446.85 L300.88 447.11 L301.14 448.02 L301.04 449.08 L301.49 449.92 L300.92 451.18 L302.82 451.4 L301.85 452.83 L302.9 453.41 L303.69 453.88 L304.23 454.37 L304.39 455.87 L305.86 455.22 L306.41 456.07 L307.56 455.95 L307.93 457.11 L308.5 457.9 L309.18 458.49 L310.34 458.47 L310.98 459.14 L311.28 460.27 L311.96 460.89 L313.18 460.84 L314.21 461.45 L313.13 462.95 L314.49 463.39 L314.65 464.35 L315.74 464.91 L316.16 465.76 L316.38 466.69 L316.05 467.87 L316.74 468.34 L317.42 469.23 L318.33 468.06 L319.25 468.98 L320.17 467.84 L321.08 468.45 L321.76 469.46 L323.07 468.89 L323.84 469.52 L324.94 469.65 L324.76 471.3 L325.63 471.87 L326.36 472.7 L326.14 473.85 L326.96 474.66 L326.21 475.97 L327.31 476.69 L327.51 476.92 L327.29 476.6 L327.28 475.55 L328.78 474.94 L327.91 473.65 L328.85 472.88 L329.31 471.97 L328.72 470.76 L329.7 470.25 L329.7 471.01 L329.39 472.1 L329.61 473.07 L329.76 474.05 L330.78 474.82 L331.07 475.77 L331.4 476.71 L332.14 477.55" stroke="#ff0000" stroke-width="1.15" fill="none" stroke-linejoin="round"/>
<path d="M64 301.5 L65.72 301.4 L67.41 301.3 L69.07 301.2 L70.68 301.11 L72.24 301.01 L73.74 300.93 L75.2 300.84 L76.64 300.76 L78.11 300.69 L79.59 300.61 L81.1 300.54 L82.6 300.47 L84.1 300.4 L85.59 300.35 L87.06 300.3 L88.53 300.25 L90.01 300.21 L91.49 300.18 L92.97 300.15 L94.44 300.13 L95.9 300.11 L97.34 300.1 L98.76 300.09 L100.18 300.08 L101.59 300.08 L103.01 300.07 L104.43 300.07 L105.85 300.08 L107.28 300.08 L108.73 300.09 L110.21 300.11 L111.7 300.12 L113.21 300.15 L114.72 300.17 L116.23 300.2 L117.73 300.24 L119.23 300.29 L120.72 300.34 L122.2 300.4 L123.68 300.48 L125.18 300.56 L126.7 300.67 L128.27 300.79 L129.87 300.93 L131.49 301.1 L133.1 301.28 L134.67 301.48 L136.23 301.69 L137.78 301.91 L139.33 302.16 L140.94 302.43 L142.63 302.74 L144.38 303.1 L146.12 303.5 L147.82 303.92 L149.45 304.36 L151 304.81 L152.54 305.28 L154.06 305.76 L155.55 306.25 L156.98 306.74 L158.39 307.23 L159.78 307.73 L161.17 308.25 L162.55 308.79 L163.93 309.35 L165.33 309.96 L166.77 310.62 L168.2 311.32 L169.58 312.06 L170.9 312.82 L172.19 313.64 L173.5 314.53 L174.89 315.52 L176.32 316.59 L177.04 317.14 L177.76 317.69 L179.16 318.75 L180.46 319.75 L181.66 320.67 L182.81 321.55 L183.93 322.42 L185.04 323.3 L186.14 324.19 L187.24 325.08 L188.35 325.99 L189.45 326.91 L190.55 327.84 L191.65 328.78 L192.75 329.73 L193.85 330.68 L194.95 331.65 L196.05 332.62 L197.15 333.62 L198.25 334.62 L199.35 335.65 L200.45 336.71 L201.55 337.79 L202.65 338.9 L203.76 340.04 L204.87 341.2 L205.98 342.4 L207.09 343.61 L208.2 344.84 L209.31 346.08 L210.42 347.31 L211.53 348.55 L212.65 349.78 L213.76 350.99 L214.87 352.2 L215.99 353.41 L217.11 354.61 L218.23 355.81 L219.34 357.02 L220.45 358.24 L221.56 359.47 L222.65 360.71 L223.74 361.97 L224.8 363.25 L225.83 364.53 L226.85 365.81 L227.85 367.1 L228.83 368.4 L229.79 369.67 L230.71 370.89 L231.6 372.07 L232.49 373.23 L233.4 374.4 L234.32 375.57 L235.24 376.73 L236.16 377.87 L237.09 379.01 L238.05 380.17 L239.03 381.36 L240.03 382.57 L241.05 383.8 L242.07 385.04 L243.1 386.27 L244.13 387.51 L245.15 388.73 L246.15 389.94 L247.13 391.12 L248.09 392.29 L249.05 393.47 L250.04 394.67 L251.04 395.91 L252.04 397.16 L253.03 398.4 L254 399.61 L254.95 400.81 L255.88 401.99 L256.81 403.15 L257.72 404.29 L258.62 405.42 L259.52 406.53 L260.44 407.64 L261.39 408.8 L262.41 409.99 L263.46 411.2 L264.51 412.41 L265.53 413.62 L266.59 414.76 L267.61 415.92 L268.66 417.03 L269.68 418.18 L270.74 419.32 L271.78 420.52 L272.84 421.73 L273.79 423.01 L274.86 424.11 L275.9 425.16 L276.78 426.3 L277.79 427.31 L278.64 428.48 L279.63 429.55 L280.49 430.74 L281.59 431.7 L281.9 432.37 L282.59 433.11 L282.87 434.1 L283.49 434.89 L284.2 435.63 L284.45 436.64 L285.14 437.39 L285.63 438.26 L286.22 439.07 L286.48 440.08 L287.29 440.67 L287.61 441.6 L288.29 442.28 L288.73 443.13 L289.43 443.79 L290.06 444.5 L290.29 445.51 L290.94 446.2 L291.69 446.83 L291.9 447.84 L292.49 448.6 L293.36 449.14 L293.99 449.86 L294.29 450.82 L295.06 451.43 L295.35 452.4 L296.03 453.08 L296.48 453.93 L297.11 454.65 L297.57 455.5 L298.09 456.28 L298.75 456.98 L299.3 457.74 L299.99 458.42 L300.64 459.11 L301.22 459.86 L301.36 460.93 L302.26 461.44 L302.69 462.3 L303.3 463.02 L303.75 463.9 L304.4 464.6 L304.83 465.5 L305.68 466.05 L306.33 466.76 L306.78 467.64 L307.33 468.43 L307.84 469.26 L308.81 469.7 L309.17 470.7 L309.8 471.45 L310.49 472.14 L311.66 472.34 L312.21 473.17 L312.67 474.08 L313.33 474.8 L314.46 475.04 L315.03 476.04 L315.6 477.02 L316.35 477.7" stroke="#22cccc" stroke-width="1.15" fill="none" stroke-linejoin="round"/>
<path d="M64 300.6 L65.45 300.57 L66.91 300.53 L68.38 300.5 L69.86 300.46 L71.34 300.42 L72.82 300.39 L74.31 300.35 L75.8 300.32 L77.29 300.28 L78.79 300.26 L80.28 300.23 L81.78 300.21 L83.27 300.2 L84.77 300.19 L86.26 300.18 L87.76 300.19 L89.25 300.21 L90.75 300.24 L92.23 300.28 L93.71 300.33 L95.17 300.39 L96.61 300.46 L98.07 300.54 L99.58 300.64 L101.12 300.75 L102.68 300.87 L104.21 301 L105.7 301.14 L107.17 301.29 L108.61 301.45 L110.08 301.63 L111.59 301.83 L113.1 302.05 L114.61 302.3 L116.16 302.58 L117.8 302.9 L119.5 303.27 L121.22 303.66 L122.9 304.07 L124.48 304.46 L125.96 304.85 L127.37 305.23 L128.76 305.62 L130.16 306.03 L131.54 306.45 L132.93 306.89 L134.33 307.34 L135.72 307.8 L137.11 308.27 L138.5 308.76 L139.89 309.25 L141.28 309.76 L142.66 310.28 L144.06 310.82 L145.44 311.37 L146.83 311.93 L148.22 312.51 L149.61 313.1 L151 313.7 L152.39 314.32 L153.78 314.94 L155.16 315.57 L156.55 316.21 L157.93 316.87 L159.31 317.55 L160.7 318.26 L162.1 319.01 L163.5 319.79 L164.91 320.63 L166.32 321.5 L167.7 322.4 L169.02 323.29 L170.27 324.16 L171.48 325.03 L172.67 325.9 L173.85 326.79 L175.02 327.68 L176.2 328.6 L177.42 329.55 L178.67 330.55 L179.94 331.58 L181.18 332.61 L182.38 333.63 L183.53 334.64 L184.65 335.64 L185.74 336.64 L186.82 337.63 L187.88 338.63 L188.95 339.62 L190.03 340.61 L191.11 341.59 L192.21 342.57 L193.3 343.54 L194.4 344.5 L195.5 345.46 L196.6 346.42 L197.7 347.4 L198.8 348.39 L199.9 349.41 L201 350.46 L202.12 351.55 L203.25 352.69 L204.4 353.87 L205.56 355.08 L206.73 356.32 L207.89 357.58 L209.03 358.83 L210.13 360.08 L211.19 361.32 L212.22 362.56 L213.24 363.85 L214.25 365.21 L215.22 366.62 L216.14 368.03 L217.01 369.42 L217.86 370.77 L218.71 372.07 L219.59 373.33 L220.51 374.55 L221.46 375.7 L222.43 376.82 L223.42 377.89 L224.41 378.93 L225.42 379.97 L226.46 381.04 L227.57 382.18 L228.76 383.4 L229.99 384.66 L231.2 385.88 L232.37 387.06 L233.53 388.22 L234.66 389.37 L235.76 390.47 L236.82 391.53 L237.89 392.62 L238.99 393.73 L240.09 394.84 L241.17 395.93 L242.22 396.99 L243.27 398.05 L244.32 399.1 L245.37 400.16 L246.42 401.21 L247.45 402.25 L248.47 403.27 L249.49 404.29 L250.49 405.32 L251.51 406.32 L252.5 407.36 L253.54 408.37 L254.56 409.4 L255.52 410.49 L256.56 411.51 L257.53 412.61 L258.72 413.56 L259.84 414.66 L261.03 415.71 L262.15 416.83 L263.08 418.13 L264.39 419.06 L265.67 420.09 L267.01 421.09 L268.16 422.29 L269.47 423.22 L270.95 423.88 L272.31 424.74 L273.62 425.78 L274.67 427.18 L276.06 428.2 L277.7 429.03 L278.4 429.67 L279.05 430.35 L279.5 431.27 L280.14 431.99 L281.2 432.33 L281.7 433.15 L282.34 433.84 L282.31 435.03 L283.2 435.53 L283.42 436.53 L284.59 436.83 L284.8 437.84 L285.42 438.55 L285.64 439.55 L286.72 439.9 L287.51 440.44 L287.7 441.63 L288.27 442.42 L289.34 442.71 L290.19 443.22 L291.1 443.66 L291.46 444.67 L291.7 445.81 L292.94 445.96 L293.55 446.75 L294.14 447.56 L295.17 447.93 L296 448.5 L296.28 449.62 L296.5 450.8 L297.28 451.38 L298.55 451.54 L298.58 452.75 L299.13 453.54 L300.04 454.02 L300.93 454.52 L301.74 455.09 L301.73 456.34 L302.36 457.06 L303.5 457.25 L304.28 457.58 L305.09 458.01 L305.29 459.46 L306.03 460.01 L307.11 459.98 L307.82 460.58 L308.47 461.14 L309.7 461.36 L309.77 462.48 L310.42 463.19 L310.42 464.36 L311.89 464.49 L311.55 465.9 L313.02 466.03 L312.96 467.24 L313.14 468.28 L314.45 468.07 L315.13 468.49 L315.91 467.56 L317 468.16 L317.93 467.94 L319.01 468.51 L319.81 467.58 L319.8 468.79 L320.59 469.45 L320.99 470.38 L322.2 470.77 L323.09 471.37 L322.92 472.67 L324.17 473.03 L324.02 474.29 L324.96 474.92 L324.59 476 L324.62 476.95 L324.6 477.7" stroke="#c41ec4" stroke-width="1.15" fill="none" stroke-linejoin="round"/>
<path d="M64.2 302.6 L65.2 302.43 L66.2 302.26 L67.16 302.11 L68.11 301.96 L69.88 301.71 L71.53 301.52 L73.15 301.39 L74.79 301.32 L76.47 301.3 L78.15 301.3 L79.77 301.34 L81.29 301.4 L82.77 301.48 L84.22 301.58 L85.66 301.7 L87.09 301.85 L88.52 302.04 L89.97 302.25 L91.42 302.5 L92.88 302.78 L94.34 303.08 L95.79 303.39 L97.22 303.71 L98.67 304.03 L100.19 304.36 L101.81 304.7 L103.46 305.02 L105.07 305.33 L106.63 305.65 L108.24 306 L109.89 306.4 L111.51 306.82 L113.03 307.24 L114.48 307.65 L115.91 308.07 L117.36 308.5 L118.82 308.95 L120.28 309.41 L121.73 309.88 L123.17 310.37 L124.58 310.86 L125.98 311.36 L127.37 311.88 L128.76 312.41 L130.16 312.95 L131.54 313.51 L132.93 314.07 L134.33 314.65 L135.72 315.22 L137.11 315.81 L138.5 316.39 L139.89 316.96 L141.28 317.54 L142.66 318.12 L144.06 318.71 L145.44 319.32 L146.84 319.95 L148.23 320.61 L149.62 321.32 L151.02 322.08 L152.42 322.88 L153.81 323.73 L155.13 324.57 L156.39 325.4 L157.6 326.23 L158.81 327.08 L160.03 327.96 L161.29 328.87 L162.57 329.82 L163.81 330.75 L165.02 331.67 L166.2 332.61 L167.39 333.59 L168.58 334.62 L169.74 335.7 L170.88 336.8 L172.01 337.9 L173.11 338.98 L174.2 340.05 L175.28 341.13 L176.38 342.23 L177.46 343.33 L178.51 344.44 L179.57 345.59 L180.66 346.82 L181.77 348.13 L182.86 349.47 L183.92 350.77 L184.99 352.03 L186.08 353.23 L187.18 354.37 L188.3 355.47 L189.42 356.56 L190.54 357.67 L191.65 358.81 L192.76 359.99 L193.86 361.22 L194.95 362.5 L196.04 363.87 L196.58 364.59 L197.11 365.32 L197.64 366.09 L198.17 366.87 L198.69 367.67 L199.2 368.47 L199.7 369.27 L200.2 370.07 L201.14 371.6 L202.02 373.05 L202.88 374.47 L203.74 375.92 L204.58 377.33 L205.39 378.71 L206.22 380.08 L207.1 381.52 L208.04 382.99 L209.02 384.45 L210.01 385.86 L211.02 387.22 L212.04 388.55 L213.07 389.84 L214.12 391.11 L215.23 392.41 L215.86 393.1 L216.49 393.78 L217.2 394.5 L217.92 395.23 L218.72 395.98 L219.51 396.73 L220.3 397.46 L221.08 398.19 L221.79 398.86 L222.49 399.52 L223.74 400.74 L224.93 401.93 L226.15 403.11 L227.4 404.28 L228.67 405.44 L229.98 406.58 L231.34 407.7 L232.73 408.75 L234.09 409.68 L235.4 410.49 L236.71 411.24 L238.06 411.96 L239.48 412.69 L240.94 413.43 L242.41 414.15 L243.82 414.83 L245.19 415.5 L246.56 416.17 L248 416.87 L249.49 417.61 L251 418.36 L252.51 419.11 L254.03 419.87 L255.55 420.63 L257.06 421.39 L258.56 422.14 L260.04 422.88 L261.49 423.6 L262.94 424.32 L264.42 425.03 L265.95 425.75 L267.49 426.44 L269.01 427.12 L270.5 427.8 L271.98 428.49 L273.39 429.28 L274.79 430.01 L276.06 430.89 L277.4 431.68 L278.61 432.66 L279.92 433.5 L281.21 434.36 L282.38 435.39 L283.63 436.32 L284.71 437.49 L286.11 438.27 L287.3 439.35 L288.54 440.37 L289.62 441.53 L291.1 442.1 L292.06 443.25 L292.1 443.2 L292.82 443.81 L293.53 444.42 L294.55 444.52 L295.2 445.24 L296.05 445.61 L296.83 446.11 L297.82 446.26 L298.31 447.24 L299.03 447.84 L300.09 447.88 L300.9 448.33 L301.39 449.32 L302.59 449.12 L303.37 449.55 L304.27 449.89 L304.92 450.92 L305.85 451.24 L306.89 451.32 L307.74 451.85 L308.96 451.65 L309.39 452.85 L310.31 453.31 L311.04 454 L311.92 454.51 L312.7 455.15 L313.62 455.61 L314.57 456.08 L314.96 457.13 L315.83 457.64 L316.11 458.75 L316.71 459.55 L317.49 460.15 L318.44 460.58 L319.35 461.05 L319.91 461.88 L320.6 462.63 L321.25 463.43 L321.75 464.43 L323.31 464.12 L323.75 465.19 L324.52 465.85 L325.12 466.75 L325.8 467.44 L326.67 467.78 L327.57 468.07 L328.26 468.7 L329.11 469.06 L329.76 469.76 L330.64 470.03 L331.44 470.63 L332.62 470.78 L332.84 472.14 L334.1 472.19 L334.7 473.07 L335.32 473.93 L336 474.71 L336.71 475.32 L338.3 474.83 L338.76 475.74 L339.5 476.33 L340.16 477 L341.11 477.31" stroke="#a8481c" stroke-width="1.15" fill="none" stroke-linejoin="round"/>
<text x="138.7" y="376.7" font-size="16" text-anchor="start">2, 5</text>
<text x="259.2" y="389.8" font-size="16" text-anchor="start">3, 4</text>
<text x="204.1" y="408.1" font-size="16" text-anchor="start">6</text>
<text x="249.9" y="458.8" font-size="16" text-anchor="start">1</text>
<line x1="172.1" y1="374.4" x2="225.3" y2="383" stroke="#555" stroke-width="0.8"/>
<path d="M225.3 383 L218.4 384.92 L219.36 379 Z" fill="#000"/>
<text x="179" y="526.7" font-size="21">E/T</text>
<text x="211" y="516.1" font-size="15.5">SE</text>
<text x="210.5" y="536.1" font-size="15.5">i</text>
<text transform="translate(16.8,406.8) rotate(-90)" font-size="20.5">f<tspan font-size="15.5" dy="9.5">i</tspan><tspan dy="-9.5">(E)</tspan></text>
<text x="6" y="538.4" font-size="17.5" font-style="italic" style="font-family:'Liberation Serif',serif;stroke-width:0.1px">c)</text>
<path d="M438.6 484.2v-3M438.6 298.4v3M494.14 484.2v-3M494.14 298.4v3M549.68 484.2v-3M549.68 298.4v3M605.22 484.2v-3M605.22 298.4v3M660.76 484.2v-3M660.76 298.4v3M716.3 484.2v-3M716.3 298.4v3M438.6 298.4h3M716.3 298.4h-3M438.6 341.65h3M716.3 341.65h-3M438.6 384.9h3M716.3 384.9h-3M438.6 428.15h3M716.3 428.15h-3M438.6 471.4h3M716.3 471.4h-3M438.6 480.99h1.6M716.3 480.99h-1.6M438.6 478.1h1.6M716.3 478.1h-1.6M438.6 475.59h1.6M716.3 475.59h-1.6M438.6 473.38h1.6M716.3 473.38h-1.6M438.6 458.38h1.6M716.3 458.38h-1.6M438.6 450.76h1.6M716.3 450.76h-1.6M438.6 445.36h1.6M716.3 445.36h-1.6M438.6 441.17h1.6M716.3 441.17h-1.6M438.6 437.74h1.6M716.3 437.74h-1.6M438.6 434.85h1.6M716.3 434.85h-1.6M438.6 432.34h1.6M716.3 432.34h-1.6M438.6 430.13h1.6M716.3 430.13h-1.6M438.6 415.13h1.6M716.3 415.13h-1.6M438.6 407.51h1.6M716.3 407.51h-1.6M438.6 402.11h1.6M716.3 402.11h-1.6M438.6 397.92h1.6M716.3 397.92h-1.6M438.6 394.49h1.6M716.3 394.49h-1.6M438.6 391.6h1.6M716.3 391.6h-1.6M438.6 389.09h1.6M716.3 389.09h-1.6M438.6 386.88h1.6M716.3 386.88h-1.6M438.6 371.88h1.6M716.3 371.88h-1.6M438.6 364.26h1.6M716.3 364.26h-1.6M438.6 358.86h1.6M716.3 358.86h-1.6M438.6 354.67h1.6M716.3 354.67h-1.6M438.6 351.24h1.6M716.3 351.24h-1.6M438.6 348.35h1.6M716.3 348.35h-1.6M438.6 345.84h1.6M716.3 345.84h-1.6M438.6 343.63h1.6M716.3 343.63h-1.6M438.6 328.63h1.6M716.3 328.63h-1.6M438.6 321.01h1.6M716.3 321.01h-1.6M438.6 315.61h1.6M716.3 315.61h-1.6M438.6 311.42h1.6M716.3 311.42h-1.6M438.6 307.99h1.6M716.3 307.99h-1.6M438.6 305.1h1.6M716.3 305.1h-1.6M438.6 302.59h1.6M716.3 302.59h-1.6M438.6 300.38h1.6M716.3 300.38h-1.6" stroke="#111" stroke-width="1" fill="none"/>
<rect x="438.6" y="298.4" width="277.7" height="185.8" fill="none" stroke="#111" stroke-width="1.2"/>
<text transform="translate(426.5 304) scale(1.05 1)" font-size="15.3" text-anchor="end">10</text>
<text x="427.3" y="294.7" font-size="11">0</text>
<text transform="translate(426.5 347.25) scale(1.05 1)" font-size="15.3" text-anchor="end">10</text>
<text x="427.3" y="337.95" font-size="11">-1</text>
<text transform="translate(426.5 390.5) scale(1.05 1)" font-size="15.3" text-anchor="end">10</text>
<text x="427.3" y="381.2" font-size="11">-2</text>
<text transform="translate(426.5 433.75) scale(1.05 1)" font-size="15.3" text-anchor="end">10</text>
<text x="427.3" y="424.45" font-size="11">-3</text>
<text transform="translate(426.5 477) scale(1.05 1)" font-size="15.3" text-anchor="end">10</text>
<text x="427.3" y="467.7" font-size="11">-4</text>
<text x="436.4" y="500" font-size="16" text-anchor="middle">-20</text>
<text x="491.94" y="500" font-size="16" text-anchor="middle">-15</text>
<text x="547.48" y="500" font-size="16" text-anchor="middle">-10</text>
<text x="603.02" y="500" font-size="16" text-anchor="middle">-5</text>
<text x="660.76" y="500" font-size="16" text-anchor="middle">0</text>
<text x="716.3" y="500" font-size="16" text-anchor="middle">5</text>
<path d="M566.3 484.2 L566.63 482.8 L566.97 481.4 L567.3 480 L567.63 478.6 L567.97 477.2 L568.3 475.8 L568.63 474.4 L568.97 473 L569.32 471.59 L569.67 470.17 L570.03 468.75 L570.39 467.33 L570.76 465.91 L571.12 464.48 L571.49 463.06 L571.85 461.64 L572.21 460.21 L572.57 458.79 L572.93 457.36 L573.28 455.94 L573.64 454.52 L573.99 453.09 L574.34 451.67 L574.7 450.25 L575.06 448.83 L575.43 447.41 L575.81 445.99 L576.2 444.57 L576.6 443.16 L577 441.75 L577.41 440.34 L577.85 438.96 L578.38 437.63 L579.04 436.39 L579.83 435.25 L580.71 434.15 L581.61 433.08 L582.51 431.99 L583.38 430.87 L584.22 429.72 L585.04 428.55 L585.81 427.35 L586.5 426.12 L587.11 424.85 L587.63 423.54 L588.12 422.22 L588.6 420.9 L589.08 419.58 L589.55 418.25 L590.02 416.93 L590.5 415.6 L590.98 414.28 L591.45 412.95 L591.93 411.63 L592.4 410.3 L592.87 408.97 L593.35 407.64 L593.82 406.3 L594.27 404.94 L594.72 403.55 L595.18 402.16 L595.66 400.78 L596.2 399.44 L596.8 398.14 L597.42 396.87 L598.06 395.6 L598.68 394.3 L599.29 392.99 L599.9 391.66 L600.5 390.33 L601.1 389 L601.7 387.67 L602.3 386.33 L602.91 385 L603.52 383.67 L604.13 382.33 L604.74 381 L605.35 379.67 L605.96 378.33 L606.56 376.99 L607.13 375.63 L607.65 374.25 L608.12 372.85 L608.57 371.43 L609 370 L609.43 368.57 L609.87 367.15 L610.33 365.75 L610.83 364.37 L611.35 363.01 L611.9 361.67 L612.46 360.33 L613.02 359 L613.58 357.67 L614.12 356.33 L614.65 355 L615.15 353.67 L615.63 352.33 L616.1 351 L616.56 349.66 L617.02 348.32 L617.46 346.97 L617.89 345.61 L618.3 344.23 L618.7 342.85 L619.1 341.46 L619.5 340.07 L619.9 338.67 L620.3 337.25 L620.7 335.81 L621.1 334.36 L621.5 332.91 L621.92 331.48 L622.35 330.07 L622.81 328.69 L623.29 327.34 L623.78 326 L624.27 324.67 L624.77 323.33 L625.28 322 L625.8 320.67 L626.37 319.33 L626.98 318 L627.6 316.67 L628.24 315.33 L628.88 314 L629.53 312.67 L630.2 311.37 L630.93 310.09 L631.71 308.87 L632.54 307.67 L633.4 306.5 L634.28 305.35 L635.19 304.22 L636.15 303.16 L637.19 302.17 L638.29 301.26 L639.44 300.46 L640.68 299.85 L642.01 299.56 L643.43 299.59 L644.85 299.9 L646.18 300.46 L647.37 301.26 L648.43 302.24 L649.42 303.32 L650.34 304.44 L651.16 305.61 L651.88 306.84 L652.5 308.11 L653.08 309.4 L653.64 310.7 L654.2 312 L654.76 313.3 L655.32 314.6 L655.87 315.9 L656.42 317.21 L656.94 318.54 L657.43 319.88 L657.9 321.23 L658.35 322.59 L658.81 323.95 L659.26 325.31 L659.71 326.68 L660.16 328.04 L660.61 329.4 L661.07 330.77 L661.52 332.13 L661.97 333.49 L662.41 334.86 L662.84 336.22 L663.23 337.59 L663.6 338.96 L663.95 340.33 L664.29 341.7 L664.63 343.07 L664.97 344.44 L665.31 345.81 L665.66 347.18 L666 348.55 L666.34 349.92 L666.68 351.29 L667.01 352.66 L667.33 354.04 L667.63 355.43 L667.88 356.82 L668.11 358.23 L668.32 359.65 L668.53 361.06 L668.74 362.48 L668.95 363.89 L669.15 365.31 L669.36 366.72 L669.57 368.14 L669.78 369.55 L669.98 370.97 L670.19 372.39 L670.39 373.8 L670.58 375.22 L670.77 376.65 L670.95 378.07 L671.14 379.49 L671.32 380.92 L671.51 382.34 L671.69 383.76 L671.88 385.18 L672.06 386.61 L672.25 388.03 L672.43 389.45 L672.61 390.88 L672.8 392.3 L672.97 393.71 L673.15 395.13 L673.33 396.55 L673.5 397.96 L673.68 399.38 L673.86 400.8 L674.03 402.21 L674.21 403.63 L674.38 405.04 L674.56 406.46 L674.73 407.88 L674.9 409.29 L675.07 410.7 L675.22 412.12 L675.38 413.53 L675.53 414.94 L675.68 416.35 L675.83 417.76 L675.98 419.17 L676.14 420.58 L676.29 421.99 L676.44 423.4 L676.59 424.81 L676.74 426.22 L676.89 427.64 L677.04 429.05 L677.19 430.46 L677.35 431.87 L677.5 433.28 L677.66 434.69 L677.82 436.1 L678 437.5 L678.18 438.91 L678.36 440.32 L678.55 441.72 L678.74 443.13 L678.93 444.54 L679.12 445.94 L679.31 447.35 L679.49 448.75 L679.68 450.16 L679.87 451.56 L680.06 452.97 L680.25 454.38 L680.44 455.78 L680.62 457.19 L680.81 458.6 L681 460.01 L681.2 461.43 L681.39 462.85 L681.58 464.27 L681.78 465.69 L681.97 467.12 L682.16 468.54 L682.36 469.96 L682.55 471.39 L682.75 472.81 L682.94 474.24 L683.14 475.66 L683.33 477.08 L683.52 478.51 L683.72 479.93 L683.91 481.35 L684.11 482.78 L684.3 484.2 L684.3 484.2" stroke="#0000ff" stroke-width="1.15" fill="none" stroke-linejoin="round"/>
<path d="M541.3 484.2 L541.39 482.8 L541.48 481.4 L541.57 480 L541.66 478.6 L541.74 477.2 L541.83 475.8 L541.92 474.4 L542.03 473 L542.27 471.61 L542.72 470.24 L543.3 468.88 L543.9 467.52 L544.53 466.18 L545.34 464.96 L546.45 463.94 L547.72 463.02 L548.94 462.08 L549.9 460.99 L550.59 459.74 L551.2 458.43 L551.8 457.13 L552.4 455.82 L553 454.51 L553.63 453.22 L554.42 452 L555.5 450.91 L556.71 449.89 L557.79 448.81 L558.6 447.62 L559.27 446.37 L559.9 445.1 L560.53 443.83 L561.18 442.57 L561.89 441.32 L562.71 440.1 L563.6 438.9 L564.5 437.7 L565.39 436.5 L566.24 435.28 L567.01 434.05 L567.73 432.81 L568.45 431.56 L569.17 430.31 L569.89 429.06 L570.61 427.82 L571.33 426.57 L572.07 425.33 L572.89 424.13 L573.79 422.95 L574.71 421.78 L575.63 420.61 L576.55 419.44 L577.48 418.28 L578.43 417.16 L579.43 416.11 L580.44 415.1 L581.46 414.1 L582.45 413.06 L583.34 411.93 L584.12 410.7 L584.87 409.43 L585.63 408.17 L586.38 406.9 L587.14 405.66 L587.96 404.47 L588.83 403.34 L589.72 402.22 L590.61 401.1 L591.48 399.95 L592.32 398.74 L593.15 397.5 L593.97 396.25 L594.73 394.97 L595.42 393.66 L596.05 392.33 L596.68 391 L597.31 389.67 L597.93 388.33 L598.56 387 L599.18 385.67 L599.79 384.33 L600.38 383 L600.97 381.67 L601.55 380.33 L602.14 379 L602.73 377.67 L603.31 376.33 L603.86 375 L604.38 373.67 L604.86 372.33 L605.34 371 L605.82 369.67 L606.3 368.33 L606.78 367 L607.27 365.67 L607.81 364.33 L608.38 363 L608.97 361.67 L609.55 360.33 L610.14 359 L610.73 357.67 L611.31 356.33 L611.86 355 L612.38 353.67 L612.86 352.33 L613.34 351 L613.82 349.67 L614.3 348.33 L614.78 347 L615.27 345.67 L615.8 344.36 L616.36 343.07 L616.93 341.79 L617.5 340.5 L618.07 339.21 L618.65 337.93 L619.25 336.65 L619.97 335.41 L620.79 334.2 L621.65 333 L622.51 331.8 L623.33 330.58 L624.03 329.31 L624.62 328 L625.17 326.67 L625.71 325.33 L626.26 324 L626.81 322.67 L627.36 321.34 L627.98 320.03 L628.69 318.75 L629.45 317.5 L630.23 316.25 L631 315 L631.77 313.75 L632.55 312.5 L633.33 311.25 L634.11 309.99 L634.9 308.73 L635.7 307.45 L636.5 306.18 L637.3 304.91 L638.15 303.67 L639.11 302.54 L640.19 301.5 L641.32 300.52 L642.49 299.71 L643.8 299.47 L645.17 299.87 L646.37 300.71 L647.36 301.84 L648.28 303.06 L649.17 304.28 L649.96 305.55 L650.58 306.88 L651.09 308.24 L651.58 309.61 L652.08 310.97 L652.57 312.34 L653.07 313.71 L653.56 315.08 L654.06 316.45 L654.54 317.82 L654.98 319.18 L655.38 320.54 L655.76 321.91 L656.15 323.27 L656.53 324.63 L656.92 326 L657.3 327.36 L657.69 328.72 L658.07 330.09 L658.46 331.45 L658.84 332.81 L659.23 334.17 L659.61 335.54 L659.94 336.92 L660.18 338.33 L660.38 339.75 L660.58 341.17 L660.77 342.59 L660.96 344.02 L661.15 345.44 L661.35 346.86 L661.54 348.28 L661.73 349.71 L661.92 351.13 L662.12 352.55 L662.3 353.98 L662.47 355.4 L662.61 356.82 L662.73 358.23 L662.85 359.65 L662.96 361.06 L663.08 362.48 L663.19 363.89 L663.31 365.31 L663.42 366.72 L663.54 368.14 L663.65 369.55 L663.77 370.97 L663.89 372.38 L664.01 373.8 L664.14 375.22 L664.28 376.65 L664.42 378.07 L664.55 379.49 L664.69 380.92 L664.83 382.34 L664.97 383.76 L665.11 385.18 L665.25 386.61 L665.38 388.03 L665.52 389.45 L665.66 390.88 L665.79 392.3 L665.91 393.72 L666.02 395.13 L666.14 396.55 L666.25 397.96 L666.36 399.38 L666.47 400.8 L666.58 402.21 L666.7 403.63 L666.81 405.04 L666.92 406.46 L667.03 407.88 L667.14 409.29 L667.23 410.7 L667.31 412.12 L667.39 413.53 L667.46 414.94 L667.54 416.35 L667.62 417.76 L667.69 419.17 L667.77 420.58 L667.84 421.99 L667.92 423.4 L667.99 424.81 L668.07 426.22 L668.15 427.64 L668.22 429.05 L668.3 430.46 L668.37 431.87 L668.45 433.28 L668.52 434.69 L668.6 436.1 L668.66 437.5 L668.72 438.9 L668.79 440.3 L668.85 441.7 L668.91 443.1 L668.97 444.5 L669.03 445.9 L669.1 447.3 L669.16 448.7 L669.22 450.1 L669.28 451.5 L669.34 452.9 L669.41 454.3 L669.47 455.7 L669.53 457.1 L669.59 458.5 L669.66 459.9 L669.72 461.3 L669.78 462.7 L669.84 464.1 L669.9 465.5 L669.97 466.9 L670.03 468.3 L670.09 469.7 L670.15 471.1 L670.21 472.5 L670.28 473.9 L670.35 475.3 L670.49 476.69 L670.76 478.06 L671.09 479.43 L671.44 480.79 L671.78 482.15 L672.13 483.52 L672.3 484.2" stroke="#008000" stroke-width="1.15" fill="none" stroke-linejoin="round"/>
<path d="M501.4 484.2 L502.07 482.95 L502.73 481.69 L503.4 480.44 L504.07 479.19 L504.73 477.93 L505.41 476.68 L506.13 475.47 L507.02 474.38 L508.07 473.4 L509.18 472.47 L510.29 471.62 L511.42 471.22 L512.57 471.63 L513.74 472.46 L514.87 473.12 L515.87 472.97 L516.75 472 L517.58 470.77 L518.42 469.53 L519.26 468.28 L520.17 467.14 L521.31 466.32 L522.68 465.81 L524.12 465.4 L525.54 464.95 L526.89 464.37 L528.14 463.64 L529.34 462.83 L530.42 461.86 L531.38 460.74 L532.31 459.58 L533.23 458.41 L534.15 457.24 L535.1 456.1 L536.15 455.11 L537.4 454.38 L538.76 453.81 L540.15 453.26 L541.53 452.72 L542.91 452.18 L544.27 451.65 L545.63 451.13 L546.99 450.62 L548.33 450.08 L549.58 449.4 L550.68 448.47 L551.7 447.39 L552.7 446.28 L553.7 445.17 L554.7 444.07 L555.7 442.96 L556.68 441.84 L557.6 440.66 L558.45 439.44 L559.29 438.21 L560.13 436.98 L560.98 435.82 L561.95 435.13 L563.11 435.24 L564.36 435.8 L565.57 436.2 L566.53 435.88 L567.26 434.83 L567.91 433.55 L568.55 432.25 L569.19 430.95 L569.83 429.65 L570.47 428.35 L571.08 427.03 L571.66 425.71 L572.24 424.39 L572.81 423.06 L573.39 421.74 L573.96 420.41 L574.54 419.09 L575.16 417.78 L575.91 416.5 L576.78 415.27 L577.7 414.05 L578.62 412.83 L579.54 411.61 L580.46 410.4 L581.38 409.2 L582.3 408 L583.22 406.8 L584.12 405.59 L584.97 404.37 L585.76 403.12 L586.54 401.87 L587.3 400.6 L588.05 399.26 L588.77 397.86 L589.48 396.44 L590.17 395.06 L590.83 393.76 L591.47 392.5 L592.11 391.25 L592.75 390 L593.39 388.75 L594.02 387.5 L594.66 386.25 L595.3 385 L595.94 383.75 L596.57 382.5 L597.21 381.25 L597.85 380 L598.49 378.75 L599.12 377.5 L599.76 376.25 L600.37 374.97 L600.93 373.66 L601.47 372.33 L602 371 L602.53 369.67 L603.07 368.33 L603.6 367 L604.14 365.67 L604.71 364.33 L605.3 363 L605.9 361.67 L606.5 360.33 L607.1 359 L607.7 357.67 L608.3 356.33 L608.9 355 L609.5 353.67 L610.1 352.33 L610.7 351 L611.3 349.67 L611.9 348.34 L612.51 347.02 L613.14 345.73 L613.77 344.45 L614.41 343.18 L615.04 341.91 L615.66 340.63 L616.2 339.32 L616.68 338 L617.13 336.67 L617.59 335.33 L618.04 334 L618.49 332.67 L618.95 331.33 L619.43 330 L619.94 328.67 L620.47 327.33 L621 326 L621.53 324.67 L622.07 323.33 L622.6 322 L623.15 320.68 L623.74 319.39 L624.38 318.13 L625.03 316.88 L625.68 315.62 L626.33 314.37 L626.98 313.13 L627.63 311.88 L628.31 310.64 L629.06 309.43 L629.9 308.25 L630.77 307.08 L631.63 305.92 L632.5 304.75 L633.41 303.62 L634.41 302.57 L635.53 301.62 L636.68 300.7 L637.88 299.92 L639.21 299.56 L640.67 299.62 L642.16 299.84 L643.5 300.3 L644.59 301.14 L645.54 302.2 L646.46 303.3 L647.36 304.41 L648.18 305.57 L648.83 306.81 L649.4 308.1 L649.95 309.4 L650.5 310.7 L651.05 312 L651.6 313.3 L652.15 314.6 L652.7 315.9 L653.24 317.2 L653.76 318.52 L654.21 319.87 L654.63 321.23 L655.04 322.59 L655.46 323.95 L655.87 325.31 L656.29 326.68 L656.7 328.04 L657.12 329.4 L657.53 330.77 L657.95 332.13 L658.36 333.49 L658.78 334.86 L659.18 336.22 L659.54 337.59 L659.87 338.96 L660.18 340.33 L660.49 341.7 L660.8 343.07 L661.11 344.44 L661.42 345.81 L661.73 347.18 L662.04 348.55 L662.36 349.92 L662.67 351.29 L662.98 352.66 L663.29 354.03 L663.58 355.41 L663.84 356.82 L664.09 358.23 L664.34 359.65 L664.58 361.06 L664.83 362.48 L665.08 363.89 L665.32 365.31 L665.57 366.72 L665.82 368.14 L666.06 369.55 L666.31 370.97 L666.55 372.38 L666.77 373.8 L666.97 375.22 L667.14 376.65 L667.31 378.07 L667.48 379.49 L667.65 380.92 L667.82 382.34 L667.98 383.76 L668.15 385.18 L668.32 386.61 L668.49 388.03 L668.66 389.45 L668.83 390.88 L669.01 392.3 L669.2 393.72 L669.4 395.13 L669.6 396.55 L669.8 397.96 L670 399.38 L670.2 400.8 L670.4 402.21 L670.6 403.63 L670.8 405.04 L671 406.46 L671.2 407.88 L671.4 409.29 L671.6 410.7 L671.79 412.12 L671.99 413.53 L672.18 414.94 L672.38 416.35 L672.57 417.76 L672.76 419.17 L672.96 420.58 L673.15 421.99 L673.35 423.4 L673.54 424.81 L673.74 426.22 L673.93 427.64 L674.13 429.05 L674.32 430.46 L674.52 431.87 L674.71 433.28 L674.91 434.69 L675.1 436.1 L675.3 437.51 L675.5 438.91 L675.7 440.32 L675.9 441.72 L676.1 443.13 L676.3 444.54 L676.5 445.94 L676.7 447.35 L676.9 448.75 L677.1 450.16 L677.3 451.56 L677.5 452.97 L677.7 454.38 L677.9 455.78 L678.1 457.19 L678.3 458.59 L678.49 460.01 L678.68 461.42 L678.85 462.85 L679.03 464.27 L679.21 465.69 L679.38 467.12 L679.56 468.54 L679.74 469.96 L679.91 471.39 L680.09 472.81 L680.26 474.24 L680.44 475.66 L680.62 477.08 L680.79 478.51 L680.97 479.93 L681.15 481.35 L681.32 482.78 L681.5 484.2 L681.5 484.2" stroke="#ff0000" stroke-width="1.15" fill="none" stroke-linejoin="round"/>
<path d="M533 484.2 L533.54 482.83 L534.09 481.46 L534.63 480.09 L535.18 478.72 L535.74 477.36 L536.36 476.03 L537.09 474.78 L537.96 473.6 L538.95 472.5 L540 471.45 L541.1 470.49 L542.28 469.66 L543.55 469.01 L544.88 468.49 L546.24 468.04 L547.58 467.55 L548.85 466.95 L550 466.17 L551.04 465.19 L552 464.1 L552.93 462.96 L553.84 461.8 L554.72 460.62 L555.55 459.42 L556.3 458.17 L557 456.89 L557.67 455.6 L558.33 454.3 L558.99 453 L559.65 451.71 L560.33 450.43 L561.02 449.16 L561.71 447.91 L562.42 446.66 L563.12 445.41 L563.83 444.16 L564.54 442.92 L565.25 441.67 L565.97 440.44 L566.7 439.21 L567.45 437.99 L568.2 436.78 L568.96 435.57 L569.72 434.36 L570.48 433.14 L571.24 431.93 L572 430.73 L572.76 429.52 L573.52 428.31 L574.27 427.1 L575.02 425.89 L575.77 424.68 L576.52 423.46 L577.28 422.25 L578.02 421.05 L578.77 419.83 L579.52 418.62 L580.27 417.41 L581.01 416.19 L581.75 414.96 L582.47 413.73 L583.19 412.48 L583.91 411.24 L584.63 409.99 L585.35 408.74 L586.06 407.49 L586.77 406.25 L587.48 405 L588.17 403.75 L588.85 402.5 L589.54 401.25 L590.26 400 L590.99 398.75 L591.75 397.5 L592.5 396.25 L593.22 395 L593.91 393.75 L594.57 392.5 L595.21 391.25 L595.85 390 L596.49 388.75 L597.12 387.5 L597.76 386.23 L598.38 384.95 L598.99 383.65 L599.6 382.33 L600.2 381 L600.8 379.67 L601.4 378.33 L601.99 377 L602.58 375.67 L603.15 374.33 L603.71 373 L604.27 371.67 L604.81 370.33 L605.36 369 L605.9 367.67 L606.44 366.33 L606.96 365 L607.45 363.67 L607.93 362.33 L608.4 361 L608.87 359.67 L609.33 358.33 L609.8 357 L610.27 355.67 L610.73 354.33 L611.2 353 L611.67 351.67 L612.13 350.33 L612.6 349 L613.06 347.67 L613.51 346.33 L613.94 344.98 L614.33 343.63 L614.7 342.27 L615.06 340.91 L615.42 339.55 L615.77 338.18 L616.13 336.82 L616.48 335.45 L616.84 334.09 L617.2 332.73 L617.57 331.37 L617.98 330.02 L618.42 328.67 L618.89 327.33 L619.38 326 L619.87 324.67 L620.37 323.34 L620.88 322.01 L621.41 320.7 L621.98 319.4 L622.59 318.13 L623.23 316.88 L623.88 315.63 L624.53 314.38 L625.18 313.13 L625.85 311.88 L626.54 310.65 L627.29 309.45 L628.1 308.26 L628.93 307.09 L629.78 305.92 L630.66 304.77 L631.58 303.64 L632.58 302.56 L633.66 301.54 L634.82 300.62 L636.05 299.91 L637.37 299.49 L638.78 299.4 L640.23 299.53 L641.69 299.81 L643.12 300.2 L644.51 300.69 L645.82 301.32 L647.05 302.11 L648.19 303.03 L649.27 304.04 L650.24 305.1 L651.05 306.25 L651.72 307.48 L652.29 308.76 L652.82 310.05 L653.34 311.35 L653.86 312.65 L654.38 313.95 L654.9 315.25 L655.41 316.56 L655.91 317.87 L656.39 319.2 L656.85 320.55 L657.29 321.91 L657.73 323.27 L658.17 324.63 L658.6 326 L659.04 327.36 L659.48 328.72 L659.91 330.09 L660.35 331.45 L660.79 332.81 L661.22 334.17 L661.65 335.54 L662.05 336.9 L662.43 338.27 L662.79 339.64 L663.14 341.01 L663.49 342.38 L663.84 343.75 L664.19 345.12 L664.54 346.49 L664.89 347.86 L665.23 349.23 L665.58 350.6 L665.93 351.98 L666.27 353.35 L666.6 354.73 L666.91 356.12 L667.21 357.53 L667.49 358.94 L667.77 360.35 L668.05 361.77 L668.32 363.18 L668.6 364.6 L668.88 366.02 L669.15 367.43 L669.43 368.85 L669.71 370.26 L669.98 371.68 L670.24 373.09 L670.49 374.51 L670.72 375.94 L670.94 377.36 L671.15 378.78 L671.37 380.2 L671.58 381.63 L671.8 383.05 L672.02 384.47 L672.23 385.9 L672.45 387.32 L672.66 388.74 L672.88 390.16 L673.1 391.59 L673.31 393.01 L673.54 394.42 L673.76 395.84 L673.98 397.26 L674.21 398.67 L674.43 400.09 L674.66 401.5 L674.88 402.92 L675.1 404.34 L675.33 405.75 L675.55 407.17 L675.78 408.58 L676.01 410 L676.25 411.41 L676.5 412.82 L676.75 414.23 L676.99 415.64 L677.24 417.05 L677.49 418.46 L677.74 419.88 L677.99 421.29 L678.24 422.7 L678.49 424.11 L678.74 425.52 L678.98 426.93 L679.23 428.34 L679.48 429.75 L679.73 431.16 L679.98 432.57 L680.23 433.98 L680.49 435.39 L680.76 436.8 L681.04 438.21 L681.32 439.61 L681.61 441.02 L681.9 442.43 L682.19 443.83 L682.47 445.24 L682.76 446.64 L683.05 448.05 L683.34 449.46 L683.63 450.86 L683.91 452.27 L684.2 453.67 L684.49 455.08 L684.78 456.48 L685.07 457.89 L685.36 459.29 L685.65 460.68 L685.95 462.07 L686.24 463.46 L686.54 464.84 L686.84 466.22 L687.13 467.61 L687.43 468.99 L687.73 470.37 L688.03 471.75 L688.32 473.14 L688.62 474.52 L688.92 475.9 L689.21 477.29 L689.51 478.67 L689.81 480.05 L690.11 481.43 L690.4 482.82 L690.7 484.2 L690.7 484.2" stroke="#22cccc" stroke-width="1.15" fill="none" stroke-linejoin="round"/>
<path d="M496.4 484.2 L497.8 483.73 L499.2 483.27 L500.6 482.8 L502 482.33 L503.37 481.83 L504.68 481.23 L505.88 480.48 L507.01 479.64 L508.12 478.76 L509.23 477.88 L510.33 477 L511.45 476.15 L512.63 475.39 L513.94 474.87 L515.38 474.58 L516.87 474.39 L518.38 474.22 L519.83 473.97 L521.15 473.5 L522.25 472.68 L523.2 471.64 L524.12 470.52 L525.02 469.39 L525.93 468.27 L526.83 467.14 L527.74 466.02 L528.64 464.89 L529.54 463.76 L530.44 462.62 L531.34 461.47 L532.24 460.32 L533.13 459.16 L534.02 458.01 L534.92 456.86 L535.82 455.71 L536.75 454.61 L537.8 453.65 L539.01 452.91 L540.33 452.32 L541.69 451.76 L543.05 451.21 L544.38 450.61 L545.64 449.93 L546.85 449.17 L548.02 448.36 L549.19 447.55 L550.36 446.73 L551.5 445.88 L552.58 444.96 L553.57 443.91 L554.49 442.79 L555.38 441.64 L556.28 440.49 L557.17 439.34 L558.07 438.18 L558.97 437.04 L559.92 435.93 L560.97 434.89 L562.11 433.93 L563.3 433 L564.49 432.07 L565.62 431.1 L566.62 430.03 L567.51 428.87 L568.33 427.67 L569.15 426.45 L569.96 425.24 L570.77 424.03 L571.6 422.82 L572.46 421.64 L573.36 420.48 L574.3 419.35 L575.25 418.23 L576.2 417.1 L577.15 415.98 L578.1 414.85 L579.05 413.74 L580.02 412.65 L581 411.6 L582 410.57 L583 409.56 L584 408.55 L585 407.53 L586 406.51 L586.98 405.47 L587.95 404.37 L588.92 403.24 L589.97 402.22 L591.17 401.38 L592.42 400.62 L593.56 399.76 L594.49 398.69 L595.29 397.49 L596.04 396.24 L596.74 394.97 L597.4 393.66 L598.03 392.33 L598.64 391 L599.25 389.67 L599.87 388.33 L600.48 387 L601.09 385.67 L601.71 384.33 L602.32 383 L602.93 381.67 L603.55 380.33 L604.16 379 L604.77 377.67 L605.37 376.33 L605.94 375 L606.45 373.67 L606.93 372.33 L607.4 371 L607.87 369.67 L608.33 368.33 L608.8 367 L609.28 365.67 L609.76 364.33 L610.26 363 L610.77 361.67 L611.27 360.33 L611.78 359 L612.29 357.67 L612.8 356.33 L613.31 355 L613.84 353.67 L614.37 352.33 L614.9 351 L615.43 349.67 L615.95 348.33 L616.41 346.98 L616.8 345.61 L617.14 344.23 L617.47 342.85 L617.79 341.46 L618.12 340.07 L618.46 338.68 L618.83 337.26 L619.23 335.82 L619.65 334.36 L620.07 332.91 L620.5 331.47 L620.99 330.09 L621.56 328.77 L622.18 327.5 L622.81 326.25 L623.45 325 L624.09 323.75 L624.73 322.5 L625.36 321.24 L626 319.97 L626.64 318.66 L627.28 317.33 L627.92 316 L628.56 314.67 L629.2 313.33 L629.85 312.01 L630.54 310.7 L631.33 309.45 L632.21 308.26 L633.13 307.08 L634.07 305.92 L635.01 304.76 L635.99 303.62 L637.04 302.54 L638.17 301.51 L639.35 300.54 L640.57 299.76 L641.86 299.37 L643.24 299.38 L644.65 299.57 L646.04 299.85 L647.32 300.33 L648.44 301.07 L649.46 302.01 L650.44 303 L651.42 304.01 L652.34 305.06 L653.15 306.21 L653.86 307.46 L654.52 308.75 L655.17 310.05 L655.82 311.35 L656.47 312.65 L657.12 313.95 L657.77 315.25 L658.42 316.55 L659.03 317.86 L659.58 319.2 L660.07 320.55 L660.53 321.91 L660.98 323.27 L661.43 324.63 L661.89 326 L662.34 327.36 L662.79 328.72 L663.24 330.09 L663.69 331.45 L664.14 332.81 L664.59 334.17 L665.03 335.54 L665.43 336.9 L665.78 338.27 L666.09 339.64 L666.39 341.01 L666.69 342.38 L666.98 343.75 L667.28 345.12 L667.57 346.49 L667.87 347.86 L668.17 349.23 L668.46 350.6 L668.76 351.97 L669.06 353.35 L669.35 354.72 L669.64 356.12 L669.93 357.52 L670.21 358.94 L670.5 360.35 L670.78 361.77 L671.07 363.18 L671.35 364.6 L671.63 366.02 L671.92 367.43 L672.2 368.85 L672.49 370.26 L672.77 371.68 L673.04 373.09 L673.29 374.51 L673.52 375.93 L673.74 377.36 L673.95 378.78 L674.17 380.2 L674.38 381.63 L674.6 383.05 L674.82 384.47 L675.03 385.9 L675.25 387.32 L675.46 388.74 L675.68 390.17 L675.9 391.59 L676.13 393.01 L676.36 394.42 L676.6 395.84 L676.84 397.26 L677.08 398.67 L677.32 400.09 L677.56 401.5 L677.8 402.92 L678.04 404.34 L678.28 405.75 L678.52 407.17 L678.76 408.58 L679 410 L679.24 411.41 L679.48 412.82 L679.71 414.23 L679.95 415.64 L680.19 417.05 L680.43 418.46 L680.66 419.88 L680.9 421.29 L681.14 422.7 L681.38 424.11 L681.62 425.52 L681.85 426.93 L682.09 428.34 L682.33 429.75 L682.57 431.16 L682.81 432.57 L683.04 433.98 L683.28 435.39 L683.52 436.8 L683.76 438.21 L684 439.61 L684.24 441.02 L684.49 442.43 L684.73 443.83 L684.97 445.24 L685.21 446.64 L685.45 448.05 L685.69 449.46 L685.93 450.86 L686.17 452.27 L686.41 453.67 L686.66 455.08 L686.9 456.49 L687.14 457.89 L687.38 459.29 L687.62 460.69 L687.86 462.07 L688.1 463.46 L688.34 464.84 L688.58 466.22 L688.82 467.61 L689.06 468.99 L689.3 470.37 L689.54 471.75 L689.78 473.14 L690.02 474.52 L690.26 475.9 L690.5 477.29 L690.74 478.67 L690.98 480.05 L691.22 481.43 L691.46 482.82 L691.7 484.2 L691.7 484.2" stroke="#c41ec4" stroke-width="1.15" fill="none" stroke-linejoin="round"/>
<path d="M471.5 484.2 L472.54 483.23 L473.58 482.25 L474.61 481.28 L475.65 480.3 L476.69 479.33 L477.74 478.36 L478.8 477.4 L479.92 476.48 L481.09 475.61 L482.32 474.78 L483.58 474.01 L484.88 473.33 L486.21 472.76 L487.57 472.29 L488.95 471.85 L490.33 471.42 L491.69 470.96 L493.03 470.43 L494.32 469.81 L495.59 469.13 L496.85 468.42 L498.1 467.7 L499.35 466.97 L500.6 466.25 L501.86 465.52 L503.12 464.78 L504.38 464.02 L505.66 463.26 L506.93 462.49 L508.21 461.72 L509.48 460.95 L510.73 460.16 L511.96 459.37 L513.17 458.55 L514.36 457.73 L515.55 456.9 L516.74 456.07 L517.92 455.25 L519.1 454.43 L520.29 453.62 L521.46 452.82 L522.64 452.03 L523.82 451.24 L524.99 450.45 L526.17 449.66 L527.34 448.87 L528.51 448.07 L529.66 447.25 L530.79 446.4 L531.91 445.53 L533.02 444.65 L534.12 443.77 L535.23 442.89 L536.34 442.01 L537.45 441.13 L538.57 440.25 L539.71 439.39 L540.87 438.54 L542.05 437.69 L543.22 436.84 L544.4 436 L545.58 435.16 L546.76 434.31 L547.94 433.48 L549.14 432.67 L550.35 431.9 L551.58 431.16 L552.82 430.44 L554.06 429.73 L555.31 429.02 L556.56 428.32 L557.8 427.61 L559.04 426.88 L560.27 426.14 L561.49 425.37 L562.7 424.57 L563.9 423.76 L565.1 422.95 L566.3 422.13 L567.5 421.32 L568.7 420.51 L569.91 419.7 L571.12 418.9 L572.33 418.1 L573.55 417.3 L574.76 416.5 L575.97 415.7 L577.19 414.9 L578.41 414.09 L579.65 413.28 L580.88 412.46 L582.12 411.64 L583.36 410.82 L584.6 409.99 L585.83 409.16 L587.07 408.33 L588.3 407.5 L589.53 406.65 L590.73 405.78 L591.91 404.84 L593.03 403.83 L594.13 402.77 L595.2 401.68 L596.29 400.59 L597.38 399.54 L598.48 398.51 L599.59 397.5 L600.68 396.48 L601.72 395.44 L602.67 394.35 L603.53 393.22 L604.33 392.06 L605.12 390.88 L605.89 389.71 L606.67 388.53 L607.43 387.34 L608.16 386.12 L608.82 384.84 L609.39 383.49 L609.89 382.08 L610.36 380.64 L610.81 379.19 L611.25 377.75 L611.67 376.33 L612.07 374.93 L612.46 373.54 L612.85 372.15 L613.23 370.77 L613.62 369.39 L614 368.01 L614.39 366.63 L614.78 365.26 L615.17 363.89 L615.56 362.53 L615.95 361.16 L616.34 359.79 L616.73 358.42 L617.12 357.05 L617.51 355.69 L617.9 354.32 L618.3 352.96 L618.7 351.59 L619.1 350.23 L619.5 348.86 L619.9 347.5 L620.3 346.14 L620.7 344.77 L621.1 343.41 L621.51 342.04 L621.92 340.66 L622.35 339.26 L622.79 337.85 L623.24 336.43 L623.7 335 L624.16 333.57 L624.62 332.15 L625.1 330.75 L625.59 329.37 L626.11 328.01 L626.63 326.67 L627.17 325.33 L627.7 324 L628.24 322.67 L628.79 321.33 L629.36 320 L629.96 318.67 L630.59 317.33 L631.22 316 L631.86 314.67 L632.5 313.33 L633.16 312.01 L633.84 310.69 L634.57 309.38 L635.35 308.1 L636.15 306.82 L636.98 305.57 L637.87 304.37 L638.84 303.27 L639.92 302.29 L641.1 301.43 L642.33 300.65 L643.59 299.98 L644.89 299.51 L646.23 299.29 L647.61 299.28 L648.99 299.43 L650.36 299.73 L651.7 300.26 L653.01 301.01 L654.29 301.9 L655.52 302.88 L656.67 303.93 L657.7 305.04 L658.56 306.23 L659.26 307.47 L659.86 308.75 L660.42 310.05 L660.98 311.35 L661.53 312.65 L662.07 313.95 L662.62 315.25 L663.17 316.56 L663.7 317.87 L664.21 319.2 L664.7 320.55 L665.18 321.91 L665.66 323.27 L666.13 324.63 L666.61 326 L667.08 327.36 L667.56 328.72 L668.03 330.09 L668.5 331.45 L668.98 332.81 L669.45 334.17 L669.91 335.54 L670.37 336.9 L670.8 338.27 L671.23 339.64 L671.64 341.01 L672.06 342.38 L672.47 343.75 L672.89 345.12 L673.3 346.49 L673.72 347.86 L674.13 349.23 L674.55 350.6 L674.96 351.98 L675.36 353.35 L675.75 354.73 L676.1 356.12 L676.41 357.53 L676.71 358.94 L677 360.35 L677.28 361.77 L677.57 363.18 L677.85 364.6 L678.13 366.02 L678.42 367.43 L678.7 368.85 L678.99 370.26 L679.27 371.68 L679.54 373.09 L679.8 374.51 L680.05 375.94 L680.3 377.36 L680.53 378.78 L680.77 380.2 L681.01 381.63 L681.25 383.05 L681.49 384.47 L681.73 385.9 L681.97 387.32 L682.2 388.74 L682.44 390.16 L682.67 391.59 L682.9 393.01 L683.12 394.42 L683.34 395.84 L683.56 397.26 L683.77 398.67 L683.99 400.09 L684.2 401.5 L684.42 402.92 L684.64 404.34 L684.85 405.75 L685.07 407.17 L685.28 408.58 L685.48 410 L685.68 411.41 L685.87 412.82 L686.05 414.23 L686.24 415.64 L686.42 417.05 L686.6 418.46 L686.79 419.88 L686.97 421.29 L687.15 422.7 L687.34 424.11 L687.52 425.52 L687.71 426.93 L687.89 428.34 L688.07 429.75 L688.26 431.16 L688.44 432.57 L688.63 433.98 L688.84 435.39 L689.07 436.8 L689.31 438.21 L689.58 439.61 L689.85 441.02 L690.12 442.43 L690.39 443.83 L690.66 445.24 L690.93 446.64 L691.2 448.05 L691.47 449.46 L691.74 450.86 L692.01 452.27 L692.28 453.67 L692.55 455.08 L692.82 456.48 L693.09 457.89 L693.36 459.29 L693.63 460.68 L693.89 462.07 L694.16 463.46 L694.42 464.84 L694.68 466.22 L694.95 467.61 L695.21 468.99 L695.47 470.37 L695.73 471.75 L696 473.14 L696.26 474.52 L696.52 475.9 L696.79 477.29 L697.05 478.67 L697.31 480.05 L697.57 481.43 L697.84 482.82 L698.1 484.2 L698.1 484.2" stroke="#a8481c" stroke-width="1.15" fill="none" stroke-linejoin="round"/>
<text x="502.4" y="421.2" font-size="16" text-anchor="start">3, 5</text>
<text x="554.6" y="472.5" font-size="16" text-anchor="start">4</text>
<text x="574.3" y="472.5" font-size="16" text-anchor="start">1</text>
<text x="653.8" y="473" font-size="16" text-anchor="start">2</text>
<text x="483.2" y="457.3" font-size="16" text-anchor="start">6</text>
<line x1="527.6" y1="427.2" x2="541.3" y2="448.9" stroke="#555" stroke-width="0.8"/>
<path d="M541.3 448.9 L535.29 445.01 L540.37 441.8 Z" fill="#000"/>
<text x="549.9" y="519.4" font-size="21">V</text>
<text x="563.3" y="529.5" font-size="14">||</text>
<text x="570.9" y="519.4" font-size="21">/V</text>
<text x="589.6" y="529.4" font-size="16.5">Ti</text>
<text transform="translate(392.8,414.4) rotate(-90)" font-size="20.5">f<tspan font-size="15.5" dy="9.5">i</tspan><tspan dy="-9.5">(V</tspan><tspan font-size="16" dy="9.5">||</tspan><tspan dy="-9.5">)</tspan></text>
<text x="384.5" y="536.8" font-size="17.5" font-style="italic" style="font-family:'Liberation Serif',serif;stroke-width:0.1px">d)</text>
</svg>
</body></html>
